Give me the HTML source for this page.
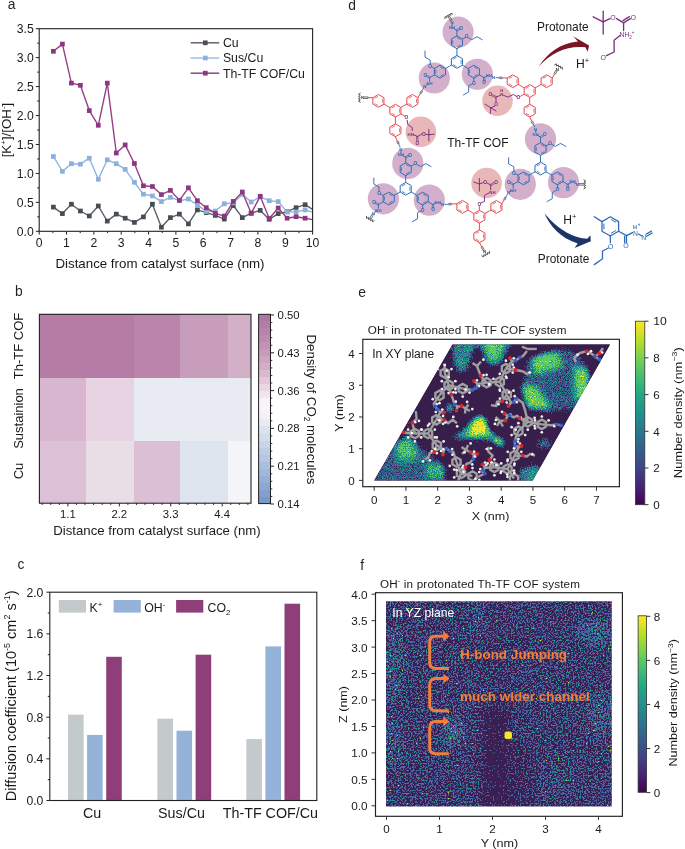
<!DOCTYPE html>
<html><head><meta charset="utf-8"><style>
html,body{margin:0;padding:0;background:#fff;}
svg{display:block;font-family:'Liberation Sans',sans-serif;will-change:transform;}
</style></head><body>
<svg width="685" height="849" viewBox="0 0 685 849">
<text x="7.7" y="9.3" font-size="13.8" text-anchor="start" fill="#2a1d1d" >a</text>
<defs><clipPath id="ca"><rect x="39.2" y="28.7" width="273.4" height="202.6"/></clipPath></defs>
<g clip-path="url(#ca)">
<polyline points="53.4,207.1 62.4,213.6 71.4,204.2 80.4,211.0 89.3,216.0 98.3,206.0 107.3,221.1 116.3,214.1 125.2,218.2 134.4,222.4 143.4,216.9 152.4,204.2 161.4,227.2 170.4,217.6 179.4,214.1 188.4,223.9 197.4,209.9 206.3,212.6 215.3,215.4 224.3,219.1 233.3,205.5 242.3,217.6 251.2,213.2 260.2,210.4 269.2,219.3 278.2,213.6 287.1,211.7 296.1,207.7 305.1,204.7 312.6,209.3" fill="none" stroke="#5a6066" stroke-width="1.4" stroke-linejoin="round" />
<rect x="51.05" y="204.75" width="4.7" height="4.7" fill="#474d55"/>
<rect x="60.05" y="211.25" width="4.7" height="4.7" fill="#474d55"/>
<rect x="69.05" y="201.85" width="4.7" height="4.7" fill="#474d55"/>
<rect x="78.05" y="208.65" width="4.7" height="4.7" fill="#474d55"/>
<rect x="86.95" y="213.65" width="4.7" height="4.7" fill="#474d55"/>
<rect x="95.95" y="203.65" width="4.7" height="4.7" fill="#474d55"/>
<rect x="104.95" y="218.75" width="4.7" height="4.7" fill="#474d55"/>
<rect x="113.95" y="211.75" width="4.7" height="4.7" fill="#474d55"/>
<rect x="122.85" y="215.85" width="4.7" height="4.7" fill="#474d55"/>
<rect x="132.05" y="220.05" width="4.7" height="4.7" fill="#474d55"/>
<rect x="141.05" y="214.55" width="4.7" height="4.7" fill="#474d55"/>
<rect x="150.05" y="201.85" width="4.7" height="4.7" fill="#474d55"/>
<rect x="159.05" y="224.85" width="4.7" height="4.7" fill="#474d55"/>
<rect x="168.05" y="215.25" width="4.7" height="4.7" fill="#474d55"/>
<rect x="177.05" y="211.75" width="4.7" height="4.7" fill="#474d55"/>
<rect x="186.05" y="221.55" width="4.7" height="4.7" fill="#474d55"/>
<rect x="195.05" y="207.55" width="4.7" height="4.7" fill="#474d55"/>
<rect x="203.95" y="210.25" width="4.7" height="4.7" fill="#474d55"/>
<rect x="212.95" y="213.05" width="4.7" height="4.7" fill="#474d55"/>
<rect x="221.95" y="216.75" width="4.7" height="4.7" fill="#474d55"/>
<rect x="230.95" y="203.15" width="4.7" height="4.7" fill="#474d55"/>
<rect x="239.95" y="215.25" width="4.7" height="4.7" fill="#474d55"/>
<rect x="248.85" y="210.85" width="4.7" height="4.7" fill="#474d55"/>
<rect x="257.85" y="208.05" width="4.7" height="4.7" fill="#474d55"/>
<rect x="266.85" y="216.95" width="4.7" height="4.7" fill="#474d55"/>
<rect x="275.85" y="211.25" width="4.7" height="4.7" fill="#474d55"/>
<rect x="284.75" y="209.35" width="4.7" height="4.7" fill="#474d55"/>
<rect x="293.75" y="205.35" width="4.7" height="4.7" fill="#474d55"/>
<rect x="302.75" y="202.35" width="4.7" height="4.7" fill="#474d55"/>
<polyline points="53.4,156.5 62.4,171.4 71.4,163.7 80.4,164.2 89.3,158.2 98.3,179.3 107.3,159.8 116.3,163.7 125.2,169.4 134.4,182.3 143.4,194.2 152.4,195.9 161.4,201.6 170.4,197.4 179.4,200.7 188.4,199.0 197.4,204.9 206.3,211.5 215.3,211.0 224.3,203.8 233.3,202.9 242.3,194.4 251.2,202.0 260.2,196.8 269.2,200.7 278.2,201.6 287.1,211.9 296.1,211.9 305.1,209.9 312.6,212.1" fill="none" stroke="#8fb3de" stroke-width="1.4" stroke-linejoin="round" />
<rect x="51.05" y="154.15" width="4.7" height="4.7" fill="#8cb0dc"/>
<rect x="60.05" y="169.05" width="4.7" height="4.7" fill="#8cb0dc"/>
<rect x="69.05" y="161.35" width="4.7" height="4.7" fill="#8cb0dc"/>
<rect x="78.05" y="161.85" width="4.7" height="4.7" fill="#8cb0dc"/>
<rect x="86.95" y="155.85" width="4.7" height="4.7" fill="#8cb0dc"/>
<rect x="95.95" y="176.95" width="4.7" height="4.7" fill="#8cb0dc"/>
<rect x="104.95" y="157.45" width="4.7" height="4.7" fill="#8cb0dc"/>
<rect x="113.95" y="161.35" width="4.7" height="4.7" fill="#8cb0dc"/>
<rect x="122.85" y="167.05" width="4.7" height="4.7" fill="#8cb0dc"/>
<rect x="132.05" y="179.95" width="4.7" height="4.7" fill="#8cb0dc"/>
<rect x="141.05" y="191.85" width="4.7" height="4.7" fill="#8cb0dc"/>
<rect x="150.05" y="193.55" width="4.7" height="4.7" fill="#8cb0dc"/>
<rect x="159.05" y="199.25" width="4.7" height="4.7" fill="#8cb0dc"/>
<rect x="168.05" y="195.05" width="4.7" height="4.7" fill="#8cb0dc"/>
<rect x="177.05" y="198.35" width="4.7" height="4.7" fill="#8cb0dc"/>
<rect x="186.05" y="196.65" width="4.7" height="4.7" fill="#8cb0dc"/>
<rect x="195.05" y="202.55" width="4.7" height="4.7" fill="#8cb0dc"/>
<rect x="203.95" y="209.15" width="4.7" height="4.7" fill="#8cb0dc"/>
<rect x="212.95" y="208.65" width="4.7" height="4.7" fill="#8cb0dc"/>
<rect x="221.95" y="201.45" width="4.7" height="4.7" fill="#8cb0dc"/>
<rect x="230.95" y="200.55" width="4.7" height="4.7" fill="#8cb0dc"/>
<rect x="239.95" y="192.05" width="4.7" height="4.7" fill="#8cb0dc"/>
<rect x="248.85" y="199.65" width="4.7" height="4.7" fill="#8cb0dc"/>
<rect x="257.85" y="194.45" width="4.7" height="4.7" fill="#8cb0dc"/>
<rect x="266.85" y="198.35" width="4.7" height="4.7" fill="#8cb0dc"/>
<rect x="275.85" y="199.25" width="4.7" height="4.7" fill="#8cb0dc"/>
<rect x="284.75" y="209.55" width="4.7" height="4.7" fill="#8cb0dc"/>
<rect x="293.75" y="209.55" width="4.7" height="4.7" fill="#8cb0dc"/>
<rect x="302.75" y="207.55" width="4.7" height="4.7" fill="#8cb0dc"/>
<polyline points="53.4,51.3 62.4,44.1 71.4,83.1 80.4,85.3 89.3,110.6 98.3,125.3 107.3,83.1 116.3,153.0 125.2,144.9 134.4,163.5 143.4,185.8 152.4,186.5 161.4,194.6 170.4,190.4 179.4,200.3 188.4,187.8 197.4,200.7 206.3,207.7 215.3,213.4 224.3,216.1 233.3,201.4 242.3,192.0 251.2,213.2 260.2,196.3 269.2,218.5 278.2,208.0 287.1,218.2 296.1,216.7 305.1,218.2 312.6,219.6" fill="none" stroke="#963f87" stroke-width="1.4" stroke-linejoin="round" />
<rect x="51.05" y="48.95" width="4.7" height="4.7" fill="#8e367f"/>
<rect x="60.05" y="41.75" width="4.7" height="4.7" fill="#8e367f"/>
<rect x="69.05" y="80.75" width="4.7" height="4.7" fill="#8e367f"/>
<rect x="78.05" y="82.95" width="4.7" height="4.7" fill="#8e367f"/>
<rect x="86.95" y="108.25" width="4.7" height="4.7" fill="#8e367f"/>
<rect x="95.95" y="122.95" width="4.7" height="4.7" fill="#8e367f"/>
<rect x="104.95" y="80.75" width="4.7" height="4.7" fill="#8e367f"/>
<rect x="113.95" y="150.65" width="4.7" height="4.7" fill="#8e367f"/>
<rect x="122.85" y="142.55" width="4.7" height="4.7" fill="#8e367f"/>
<rect x="132.05" y="161.15" width="4.7" height="4.7" fill="#8e367f"/>
<rect x="141.05" y="183.45" width="4.7" height="4.7" fill="#8e367f"/>
<rect x="150.05" y="184.15" width="4.7" height="4.7" fill="#8e367f"/>
<rect x="159.05" y="192.25" width="4.7" height="4.7" fill="#8e367f"/>
<rect x="168.05" y="188.05" width="4.7" height="4.7" fill="#8e367f"/>
<rect x="177.05" y="197.95" width="4.7" height="4.7" fill="#8e367f"/>
<rect x="186.05" y="185.45" width="4.7" height="4.7" fill="#8e367f"/>
<rect x="195.05" y="198.35" width="4.7" height="4.7" fill="#8e367f"/>
<rect x="203.95" y="205.35" width="4.7" height="4.7" fill="#8e367f"/>
<rect x="212.95" y="211.05" width="4.7" height="4.7" fill="#8e367f"/>
<rect x="221.95" y="213.75" width="4.7" height="4.7" fill="#8e367f"/>
<rect x="230.95" y="199.05" width="4.7" height="4.7" fill="#8e367f"/>
<rect x="239.95" y="189.65" width="4.7" height="4.7" fill="#8e367f"/>
<rect x="248.85" y="210.85" width="4.7" height="4.7" fill="#8e367f"/>
<rect x="257.85" y="193.95" width="4.7" height="4.7" fill="#8e367f"/>
<rect x="266.85" y="216.15" width="4.7" height="4.7" fill="#8e367f"/>
<rect x="275.85" y="205.65" width="4.7" height="4.7" fill="#8e367f"/>
<rect x="284.75" y="215.85" width="4.7" height="4.7" fill="#8e367f"/>
<rect x="293.75" y="214.35" width="4.7" height="4.7" fill="#8e367f"/>
<rect x="302.75" y="215.85" width="4.7" height="4.7" fill="#8e367f"/>
</g>
<rect x="39.2" y="28.7" width="273.4" height="202.6" fill="none" stroke="#222" stroke-width="1.1"/>
<line x1="35.80" y1="231.30" x2="39.20" y2="231.30" stroke="#222" stroke-width="1"/>
<text x="33.8" y="235.6" font-size="12.2" text-anchor="end" fill="#1a1a1a" >0.0</text>
<line x1="37.20" y1="216.83" x2="39.20" y2="216.83" stroke="#222" stroke-width="1"/>
<line x1="35.80" y1="202.36" x2="39.20" y2="202.36" stroke="#222" stroke-width="1"/>
<text x="33.8" y="206.7" font-size="12.2" text-anchor="end" fill="#1a1a1a" >0.5</text>
<line x1="37.20" y1="187.89" x2="39.20" y2="187.89" stroke="#222" stroke-width="1"/>
<line x1="35.80" y1="173.41" x2="39.20" y2="173.41" stroke="#222" stroke-width="1"/>
<text x="33.8" y="177.7" font-size="12.2" text-anchor="end" fill="#1a1a1a" >1.0</text>
<line x1="37.20" y1="158.94" x2="39.20" y2="158.94" stroke="#222" stroke-width="1"/>
<line x1="35.80" y1="144.47" x2="39.20" y2="144.47" stroke="#222" stroke-width="1"/>
<text x="33.8" y="148.8" font-size="12.2" text-anchor="end" fill="#1a1a1a" >1.5</text>
<line x1="37.20" y1="130.00" x2="39.20" y2="130.00" stroke="#222" stroke-width="1"/>
<line x1="35.80" y1="115.53" x2="39.20" y2="115.53" stroke="#222" stroke-width="1"/>
<text x="33.8" y="119.8" font-size="12.2" text-anchor="end" fill="#1a1a1a" >2.0</text>
<line x1="37.20" y1="101.06" x2="39.20" y2="101.06" stroke="#222" stroke-width="1"/>
<line x1="35.80" y1="86.59" x2="39.20" y2="86.59" stroke="#222" stroke-width="1"/>
<text x="33.8" y="90.9" font-size="12.2" text-anchor="end" fill="#1a1a1a" >2.5</text>
<line x1="37.20" y1="72.11" x2="39.20" y2="72.11" stroke="#222" stroke-width="1"/>
<line x1="35.80" y1="57.64" x2="39.20" y2="57.64" stroke="#222" stroke-width="1"/>
<text x="33.8" y="61.9" font-size="12.2" text-anchor="end" fill="#1a1a1a" >3.0</text>
<line x1="37.20" y1="43.17" x2="39.20" y2="43.17" stroke="#222" stroke-width="1"/>
<line x1="35.80" y1="28.70" x2="39.20" y2="28.70" stroke="#222" stroke-width="1"/>
<text x="33.8" y="33.0" font-size="12.2" text-anchor="end" fill="#1a1a1a" >3.5</text>
<line x1="39.20" y1="231.30" x2="39.20" y2="234.60" stroke="#222" stroke-width="1"/>
<text x="39.2" y="247.4" font-size="12.2" text-anchor="middle" fill="#1a1a1a" >0</text>
<line x1="52.87" y1="231.30" x2="52.87" y2="233.10" stroke="#222" stroke-width="1"/>
<line x1="66.54" y1="231.30" x2="66.54" y2="234.60" stroke="#222" stroke-width="1"/>
<text x="66.5" y="247.4" font-size="12.2" text-anchor="middle" fill="#1a1a1a" >1</text>
<line x1="80.21" y1="231.30" x2="80.21" y2="233.10" stroke="#222" stroke-width="1"/>
<line x1="93.88" y1="231.30" x2="93.88" y2="234.60" stroke="#222" stroke-width="1"/>
<text x="93.9" y="247.4" font-size="12.2" text-anchor="middle" fill="#1a1a1a" >2</text>
<line x1="107.55" y1="231.30" x2="107.55" y2="233.10" stroke="#222" stroke-width="1"/>
<line x1="121.22" y1="231.30" x2="121.22" y2="234.60" stroke="#222" stroke-width="1"/>
<text x="121.2" y="247.4" font-size="12.2" text-anchor="middle" fill="#1a1a1a" >3</text>
<line x1="134.89" y1="231.30" x2="134.89" y2="233.10" stroke="#222" stroke-width="1"/>
<line x1="148.56" y1="231.30" x2="148.56" y2="234.60" stroke="#222" stroke-width="1"/>
<text x="148.6" y="247.4" font-size="12.2" text-anchor="middle" fill="#1a1a1a" >4</text>
<line x1="162.23" y1="231.30" x2="162.23" y2="233.10" stroke="#222" stroke-width="1"/>
<line x1="175.90" y1="231.30" x2="175.90" y2="234.60" stroke="#222" stroke-width="1"/>
<text x="175.9" y="247.4" font-size="12.2" text-anchor="middle" fill="#1a1a1a" >5</text>
<line x1="189.57" y1="231.30" x2="189.57" y2="233.10" stroke="#222" stroke-width="1"/>
<line x1="203.24" y1="231.30" x2="203.24" y2="234.60" stroke="#222" stroke-width="1"/>
<text x="203.2" y="247.4" font-size="12.2" text-anchor="middle" fill="#1a1a1a" >6</text>
<line x1="216.91" y1="231.30" x2="216.91" y2="233.10" stroke="#222" stroke-width="1"/>
<line x1="230.58" y1="231.30" x2="230.58" y2="234.60" stroke="#222" stroke-width="1"/>
<text x="230.6" y="247.4" font-size="12.2" text-anchor="middle" fill="#1a1a1a" >7</text>
<line x1="244.25" y1="231.30" x2="244.25" y2="233.10" stroke="#222" stroke-width="1"/>
<line x1="257.92" y1="231.30" x2="257.92" y2="234.60" stroke="#222" stroke-width="1"/>
<text x="257.9" y="247.4" font-size="12.2" text-anchor="middle" fill="#1a1a1a" >8</text>
<line x1="271.59" y1="231.30" x2="271.59" y2="233.10" stroke="#222" stroke-width="1"/>
<line x1="285.26" y1="231.30" x2="285.26" y2="234.60" stroke="#222" stroke-width="1"/>
<text x="285.3" y="247.4" font-size="12.2" text-anchor="middle" fill="#1a1a1a" >9</text>
<line x1="298.93" y1="231.30" x2="298.93" y2="233.10" stroke="#222" stroke-width="1"/>
<line x1="312.60" y1="231.30" x2="312.60" y2="234.60" stroke="#222" stroke-width="1"/>
<text x="312.6" y="247.4" font-size="12.2" text-anchor="middle" fill="#1a1a1a" >10</text>
<text x="160.0" y="268.2" font-size="13.3" text-anchor="middle" fill="#1a1a1a" >Distance from catalyst surface (nm)</text>
<text transform="translate(10.9,130) rotate(-90)" font-size="13.3" text-anchor="middle" fill="#1a1a1a">[K<tspan font-size="8" dy="-5">+</tspan><tspan dy="5">]/[OH</tspan><tspan font-size="8" dy="-5">-</tspan><tspan dy="5">]</tspan></text>
<line x1="190.60" y1="42.80" x2="219.20" y2="42.80" stroke="#5f656b" stroke-width="1.5"/>
<rect x="202.95" y="40.45" width="4.7" height="4.7" fill="#4a5058"/>
<text x="222.9" y="47.1" font-size="12.3" text-anchor="start" fill="#1a1a1a" >Cu</text>
<line x1="190.60" y1="58.00" x2="219.20" y2="58.00" stroke="#8fb3de" stroke-width="1.3"/>
<rect x="202.95" y="55.65" width="4.7" height="4.7" fill="#8cb0dc"/>
<text x="222.9" y="62.3" font-size="12.3" text-anchor="start" fill="#1a1a1a" >Sus/Cu</text>
<line x1="190.60" y1="73.20" x2="219.20" y2="73.20" stroke="#953f86" stroke-width="1.5"/>
<rect x="202.95" y="70.85" width="4.7" height="4.7" fill="#8e367f"/>
<text x="222.9" y="77.5" font-size="12.3" text-anchor="start" fill="#1a1a1a" >Th-TF COF/Cu</text>
<text x="15.0" y="296.0" font-size="13.8" text-anchor="start" fill="#2a1d1d" >b</text>
<rect x="39.4" y="314.3" width="46.8" height="63.4" fill="#b57ca5" shape-rendering="crispEdges"/>
<rect x="86.2" y="314.3" width="47.3" height="63.4" fill="#b57ca5" shape-rendering="crispEdges"/>
<rect x="133.5" y="314.3" width="46.9" height="63.4" fill="#bb84ab" shape-rendering="crispEdges"/>
<rect x="180.4" y="314.3" width="47.2" height="63.4" fill="#c89cbb" shape-rendering="crispEdges"/>
<rect x="227.6" y="314.3" width="23.4" height="63.4" fill="#d4b0c8" shape-rendering="crispEdges"/>
<rect x="39.4" y="377.7" width="46.8" height="63.0" fill="#d9b6cf" shape-rendering="crispEdges"/>
<rect x="86.2" y="377.7" width="47.3" height="63.0" fill="#e7d3e2" shape-rendering="crispEdges"/>
<rect x="133.5" y="377.7" width="46.9" height="63.0" fill="#e9ebf3" shape-rendering="crispEdges"/>
<rect x="180.4" y="377.7" width="47.2" height="63.0" fill="#e9ebf3" shape-rendering="crispEdges"/>
<rect x="227.6" y="377.7" width="23.4" height="63.0" fill="#e9ebf3" shape-rendering="crispEdges"/>
<rect x="39.4" y="440.7" width="46.8" height="62.5" fill="#dcc1d6" shape-rendering="crispEdges"/>
<rect x="86.2" y="440.7" width="47.3" height="62.5" fill="#e9dde6" shape-rendering="crispEdges"/>
<rect x="133.5" y="440.7" width="46.9" height="62.5" fill="#dbbfd4" shape-rendering="crispEdges"/>
<rect x="180.4" y="440.7" width="47.2" height="62.5" fill="#dfe5ef" shape-rendering="crispEdges"/>
<rect x="227.6" y="440.7" width="23.4" height="62.5" fill="#f4f5f8" shape-rendering="crispEdges"/>
<rect x="39.4" y="314.3" width="211.6" height="188.9" fill="none" stroke="#222" stroke-width="1.1"/>
<line x1="42.19" y1="503.20" x2="42.19" y2="504.90" stroke="#222" stroke-width="1"/>
<line x1="50.76" y1="503.20" x2="50.76" y2="504.90" stroke="#222" stroke-width="1"/>
<line x1="59.33" y1="503.20" x2="59.33" y2="504.90" stroke="#222" stroke-width="1"/>
<line x1="67.90" y1="503.20" x2="67.90" y2="506.40" stroke="#222" stroke-width="1"/>
<line x1="76.47" y1="503.20" x2="76.47" y2="504.90" stroke="#222" stroke-width="1"/>
<line x1="85.04" y1="503.20" x2="85.04" y2="504.90" stroke="#222" stroke-width="1"/>
<line x1="93.61" y1="503.20" x2="93.61" y2="504.90" stroke="#222" stroke-width="1"/>
<line x1="102.18" y1="503.20" x2="102.18" y2="504.90" stroke="#222" stroke-width="1"/>
<line x1="110.75" y1="503.20" x2="110.75" y2="504.90" stroke="#222" stroke-width="1"/>
<line x1="119.32" y1="503.20" x2="119.32" y2="506.40" stroke="#222" stroke-width="1"/>
<line x1="127.89" y1="503.20" x2="127.89" y2="504.90" stroke="#222" stroke-width="1"/>
<line x1="136.46" y1="503.20" x2="136.46" y2="504.90" stroke="#222" stroke-width="1"/>
<line x1="145.03" y1="503.20" x2="145.03" y2="504.90" stroke="#222" stroke-width="1"/>
<line x1="153.60" y1="503.20" x2="153.60" y2="504.90" stroke="#222" stroke-width="1"/>
<line x1="162.17" y1="503.20" x2="162.17" y2="504.90" stroke="#222" stroke-width="1"/>
<line x1="170.74" y1="503.20" x2="170.74" y2="506.40" stroke="#222" stroke-width="1"/>
<line x1="179.31" y1="503.20" x2="179.31" y2="504.90" stroke="#222" stroke-width="1"/>
<line x1="187.88" y1="503.20" x2="187.88" y2="504.90" stroke="#222" stroke-width="1"/>
<line x1="196.45" y1="503.20" x2="196.45" y2="504.90" stroke="#222" stroke-width="1"/>
<line x1="205.02" y1="503.20" x2="205.02" y2="504.90" stroke="#222" stroke-width="1"/>
<line x1="213.59" y1="503.20" x2="213.59" y2="504.90" stroke="#222" stroke-width="1"/>
<line x1="222.16" y1="503.20" x2="222.16" y2="506.40" stroke="#222" stroke-width="1"/>
<line x1="230.73" y1="503.20" x2="230.73" y2="504.90" stroke="#222" stroke-width="1"/>
<line x1="239.30" y1="503.20" x2="239.30" y2="504.90" stroke="#222" stroke-width="1"/>
<line x1="247.87" y1="503.20" x2="247.87" y2="504.90" stroke="#222" stroke-width="1"/>
<text x="67.9" y="518.3" font-size="11.3" text-anchor="middle" fill="#1a1a1a" >1.1</text>
<text x="119.3" y="518.3" font-size="11.3" text-anchor="middle" fill="#1a1a1a" >2.2</text>
<text x="170.7" y="518.3" font-size="11.3" text-anchor="middle" fill="#1a1a1a" >3.3</text>
<text x="222.2" y="518.3" font-size="11.3" text-anchor="middle" fill="#1a1a1a" >4.4</text>
<text x="157.0" y="535.0" font-size="13.2" text-anchor="middle" fill="#1a1a1a" >Distance from catalyst surface (nm)</text>
<text transform="translate(23.4,346.0) rotate(-90)" font-size="13" text-anchor="middle" fill="#1a1a1a">Th-TF COF</text>
<text transform="translate(23.4,418.5) rotate(-90)" font-size="13" text-anchor="middle" fill="#1a1a1a">Sustainion</text>
<text transform="translate(23.4,471.0) rotate(-90)" font-size="13" text-anchor="middle" fill="#1a1a1a">Cu</text>
<rect x="258.6" y="314.30" width="11.9" height="7.01" fill="#af76a1" shape-rendering="crispEdges"/>
<rect x="258.6" y="321.31" width="11.9" height="7.01" fill="#b47da6" shape-rendering="crispEdges"/>
<rect x="258.6" y="328.32" width="11.9" height="7.01" fill="#b984ab" shape-rendering="crispEdges"/>
<rect x="258.6" y="335.33" width="11.9" height="7.01" fill="#bd8bb0" shape-rendering="crispEdges"/>
<rect x="258.6" y="342.34" width="11.9" height="7.01" fill="#c292b5" shape-rendering="crispEdges"/>
<rect x="258.6" y="349.36" width="11.9" height="7.01" fill="#c79aba" shape-rendering="crispEdges"/>
<rect x="258.6" y="356.37" width="11.9" height="7.01" fill="#cda4c1" shape-rendering="crispEdges"/>
<rect x="258.6" y="363.38" width="11.9" height="7.01" fill="#d3aec8" shape-rendering="crispEdges"/>
<rect x="258.6" y="370.39" width="11.9" height="7.01" fill="#d9b9d0" shape-rendering="crispEdges"/>
<rect x="258.6" y="377.40" width="11.9" height="7.01" fill="#e1c7d9" shape-rendering="crispEdges"/>
<rect x="258.6" y="384.41" width="11.9" height="7.01" fill="#ead5e3" shape-rendering="crispEdges"/>
<rect x="258.6" y="391.42" width="11.9" height="7.01" fill="#f2e4ed" shape-rendering="crispEdges"/>
<rect x="258.6" y="398.43" width="11.9" height="7.01" fill="#f9f3f7" shape-rendering="crispEdges"/>
<rect x="258.6" y="405.44" width="11.9" height="7.01" fill="#f8f5f8" shape-rendering="crispEdges"/>
<rect x="258.6" y="412.46" width="11.9" height="7.01" fill="#f2f2f7" shape-rendering="crispEdges"/>
<rect x="258.6" y="419.47" width="11.9" height="7.01" fill="#e7ebf2" shape-rendering="crispEdges"/>
<rect x="258.6" y="426.48" width="11.9" height="7.01" fill="#dce3ee" shape-rendering="crispEdges"/>
<rect x="258.6" y="433.49" width="11.9" height="7.01" fill="#d2dceb" shape-rendering="crispEdges"/>
<rect x="258.6" y="440.50" width="11.9" height="7.01" fill="#c8d4e7" shape-rendering="crispEdges"/>
<rect x="258.6" y="447.51" width="11.9" height="7.01" fill="#becde4" shape-rendering="crispEdges"/>
<rect x="258.6" y="454.52" width="11.9" height="7.01" fill="#b4c6e1" shape-rendering="crispEdges"/>
<rect x="258.6" y="461.53" width="11.9" height="7.01" fill="#aabfdd" shape-rendering="crispEdges"/>
<rect x="258.6" y="468.54" width="11.9" height="7.01" fill="#a0b7d9" shape-rendering="crispEdges"/>
<rect x="258.6" y="475.56" width="11.9" height="7.01" fill="#96b0d5" shape-rendering="crispEdges"/>
<rect x="258.6" y="482.57" width="11.9" height="7.01" fill="#8ca8d0" shape-rendering="crispEdges"/>
<rect x="258.6" y="489.58" width="11.9" height="7.01" fill="#82a0cc" shape-rendering="crispEdges"/>
<rect x="258.6" y="496.59" width="11.9" height="7.01" fill="#7899c7" shape-rendering="crispEdges"/>
<rect x="258.6" y="314.3" width="11.9" height="189.3" fill="none" stroke="#222" stroke-width="1"/>
<line x1="270.50" y1="315.00" x2="274.00" y2="315.00" stroke="#222" stroke-width="1"/>
<text x="277.6" y="319.0" font-size="11.3" text-anchor="start" fill="#1a1a1a" >0.50</text>
<line x1="270.50" y1="322.56" x2="272.30" y2="322.56" stroke="#222" stroke-width="0.9"/>
<line x1="270.50" y1="330.12" x2="272.30" y2="330.12" stroke="#222" stroke-width="0.9"/>
<line x1="270.50" y1="337.68" x2="272.30" y2="337.68" stroke="#222" stroke-width="0.9"/>
<line x1="270.50" y1="345.24" x2="272.30" y2="345.24" stroke="#222" stroke-width="0.9"/>
<line x1="270.50" y1="352.80" x2="274.00" y2="352.80" stroke="#222" stroke-width="1"/>
<text x="277.6" y="356.8" font-size="11.3" text-anchor="start" fill="#1a1a1a" >0.43</text>
<line x1="270.50" y1="360.36" x2="272.30" y2="360.36" stroke="#222" stroke-width="0.9"/>
<line x1="270.50" y1="367.92" x2="272.30" y2="367.92" stroke="#222" stroke-width="0.9"/>
<line x1="270.50" y1="375.48" x2="272.30" y2="375.48" stroke="#222" stroke-width="0.9"/>
<line x1="270.50" y1="383.04" x2="272.30" y2="383.04" stroke="#222" stroke-width="0.9"/>
<line x1="270.50" y1="390.60" x2="274.00" y2="390.60" stroke="#222" stroke-width="1"/>
<text x="277.6" y="394.6" font-size="11.3" text-anchor="start" fill="#1a1a1a" >0.36</text>
<line x1="270.50" y1="398.16" x2="272.30" y2="398.16" stroke="#222" stroke-width="0.9"/>
<line x1="270.50" y1="405.72" x2="272.30" y2="405.72" stroke="#222" stroke-width="0.9"/>
<line x1="270.50" y1="413.28" x2="272.30" y2="413.28" stroke="#222" stroke-width="0.9"/>
<line x1="270.50" y1="420.84" x2="272.30" y2="420.84" stroke="#222" stroke-width="0.9"/>
<line x1="270.50" y1="428.40" x2="274.00" y2="428.40" stroke="#222" stroke-width="1"/>
<text x="277.6" y="432.4" font-size="11.3" text-anchor="start" fill="#1a1a1a" >0.28</text>
<line x1="270.50" y1="435.96" x2="272.30" y2="435.96" stroke="#222" stroke-width="0.9"/>
<line x1="270.50" y1="443.52" x2="272.30" y2="443.52" stroke="#222" stroke-width="0.9"/>
<line x1="270.50" y1="451.08" x2="272.30" y2="451.08" stroke="#222" stroke-width="0.9"/>
<line x1="270.50" y1="458.64" x2="272.30" y2="458.64" stroke="#222" stroke-width="0.9"/>
<line x1="270.50" y1="466.20" x2="274.00" y2="466.20" stroke="#222" stroke-width="1"/>
<text x="277.6" y="470.2" font-size="11.3" text-anchor="start" fill="#1a1a1a" >0.21</text>
<line x1="270.50" y1="473.76" x2="272.30" y2="473.76" stroke="#222" stroke-width="0.9"/>
<line x1="270.50" y1="481.32" x2="272.30" y2="481.32" stroke="#222" stroke-width="0.9"/>
<line x1="270.50" y1="488.88" x2="272.30" y2="488.88" stroke="#222" stroke-width="0.9"/>
<line x1="270.50" y1="496.44" x2="272.30" y2="496.44" stroke="#222" stroke-width="0.9"/>
<line x1="270.50" y1="504.00" x2="274.00" y2="504.00" stroke="#222" stroke-width="1"/>
<text x="277.6" y="508.0" font-size="11.3" text-anchor="start" fill="#1a1a1a" >0.14</text>
<text transform="translate(307.4,409.5) rotate(90)" font-size="13.2" text-anchor="middle" fill="#1a1a1a">Density of CO<tspan font-size="8.5" dy="3">2</tspan><tspan dy="-3"> molecules</tspan></text>
<text x="17.5" y="569.0" font-size="13.8" text-anchor="start" fill="#2a1d1d" >c</text>
<rect x="68.0" y="714.6" width="15.6" height="85.9" fill="#c4c9cb"/>
<rect x="87.1" y="734.9" width="15.6" height="65.6" fill="#95b2d8"/>
<rect x="106.2" y="656.8" width="15.6" height="143.7" fill="#8e3f7a"/>
<rect x="157.4" y="718.7" width="15.6" height="81.8" fill="#c4c9cb"/>
<rect x="176.5" y="730.7" width="15.6" height="69.8" fill="#95b2d8"/>
<rect x="195.6" y="654.7" width="15.6" height="145.8" fill="#8e3f7a"/>
<rect x="246.3" y="739.1" width="15.6" height="61.4" fill="#c4c9cb"/>
<rect x="265.4" y="646.4" width="15.6" height="154.1" fill="#95b2d8"/>
<rect x="284.5" y="603.7" width="15.6" height="196.8" fill="#8e3f7a"/>
<rect x="49.8" y="592.2" width="267.0" height="208.3" fill="none" stroke="#222" stroke-width="1.1"/>
<line x1="46.40" y1="800.50" x2="49.80" y2="800.50" stroke="#222" stroke-width="1"/>
<text x="43.4" y="804.8" font-size="12.2" text-anchor="end" fill="#1a1a1a" >0.0</text>
<line x1="47.80" y1="779.67" x2="49.80" y2="779.67" stroke="#222" stroke-width="1"/>
<line x1="46.40" y1="758.84" x2="49.80" y2="758.84" stroke="#222" stroke-width="1"/>
<text x="43.4" y="763.1" font-size="12.2" text-anchor="end" fill="#1a1a1a" >0.4</text>
<line x1="47.80" y1="738.01" x2="49.80" y2="738.01" stroke="#222" stroke-width="1"/>
<line x1="46.40" y1="717.18" x2="49.80" y2="717.18" stroke="#222" stroke-width="1"/>
<text x="43.4" y="721.5" font-size="12.2" text-anchor="end" fill="#1a1a1a" >0.8</text>
<line x1="47.80" y1="696.35" x2="49.80" y2="696.35" stroke="#222" stroke-width="1"/>
<line x1="46.40" y1="675.52" x2="49.80" y2="675.52" stroke="#222" stroke-width="1"/>
<text x="43.4" y="679.8" font-size="12.2" text-anchor="end" fill="#1a1a1a" >1.2</text>
<line x1="47.80" y1="654.69" x2="49.80" y2="654.69" stroke="#222" stroke-width="1"/>
<line x1="46.40" y1="633.86" x2="49.80" y2="633.86" stroke="#222" stroke-width="1"/>
<text x="43.4" y="638.2" font-size="12.2" text-anchor="end" fill="#1a1a1a" >1.6</text>
<line x1="47.80" y1="613.03" x2="49.80" y2="613.03" stroke="#222" stroke-width="1"/>
<line x1="46.40" y1="592.20" x2="49.80" y2="592.20" stroke="#222" stroke-width="1"/>
<text x="43.4" y="596.5" font-size="12.2" text-anchor="end" fill="#1a1a1a" >2.0</text>
<text x="92.1" y="818.4" font-size="14.3" text-anchor="middle" fill="#1a1a1a" >Cu</text>
<text x="181.5" y="818.4" font-size="14.3" text-anchor="middle" fill="#1a1a1a" >Sus/Cu</text>
<text x="270.4" y="818.4" font-size="14.3" text-anchor="middle" fill="#1a1a1a" >Th-TF COF/Cu</text>
<rect x="58.8" y="600.0" width="27.2" height="12.6" fill="#c4c9cb"/>
<rect x="113.6" y="600.0" width="27.2" height="12.6" fill="#95b2d8"/>
<rect x="176.1" y="600.0" width="27.2" height="12.6" fill="#8e3f7a"/>
<text x="89.6" y="612.3" font-size="12.3" text-anchor="start" fill="#1a1a1a" >K<tspan font-size="7.8" dy="-5">+</tspan></text>
<text x="144.3" y="612.3" font-size="12.3" text-anchor="start" fill="#1a1a1a" >OH<tspan font-size="7.8" dy="-5">-</tspan></text>
<text x="207.5" y="612.3" font-size="12.3" text-anchor="start" fill="#1a1a1a" >CO<tspan font-size="7.8" dy="3">2</tspan></text>
<text transform="translate(15.9,695.8) rotate(-90)" font-size="14.5" text-anchor="middle" fill="#1a1a1a">Diffusion coefficient (10<tspan font-size="9" dy="-5.5">-5</tspan><tspan dy="5.5"> cm</tspan><tspan font-size="9" dy="-5.5">2</tspan><tspan dy="5.5"> s</tspan><tspan font-size="9" dy="-5.5">-1</tspan><tspan dy="5.5">)</tspan></text>
<text x="348.2" y="10.3" font-size="13.8" text-anchor="start" fill="#2a1d1d" >d</text>
<circle cx="458.1" cy="32.0" r="15.6" fill="#d3afcb"/>
<circle cx="434.3" cy="78.0" r="15.6" fill="#d3afcb"/>
<circle cx="477.4" cy="74.3" r="15.6" fill="#d3afcb"/>
<circle cx="540.5" cy="138.9" r="15.6" fill="#d3afcb"/>
<circle cx="520.3" cy="184.3" r="15.6" fill="#d3afcb"/>
<circle cx="563.5" cy="182.6" r="15.6" fill="#d3afcb"/>
<circle cx="407.8" cy="163.4" r="15.6" fill="#d3afcb"/>
<circle cx="383.4" cy="198.8" r="15.6" fill="#d3afcb"/>
<circle cx="429.3" cy="200.1" r="15.6" fill="#d3afcb"/>
<circle cx="420.9" cy="131.8" r="15.3" fill="#e8b7b8"/>
<circle cx="497.5" cy="100.7" r="15.3" fill="#e8b7b8"/>
<circle cx="486.6" cy="183.0" r="15.3" fill="#e8b7b8"/>
<polygon points="456.90,68.30 451.36,65.10 451.36,58.70 456.90,55.50 462.44,58.70 462.44,65.10" fill="none" stroke="#2f6cb5" stroke-width="1.0" stroke-linejoin="round"/>
<line x1="456.20" y1="66.32" x2="453.42" y2="64.72" stroke="#2f6cb5" stroke-width="0.75" stroke-linecap="round"/>
<line x1="453.42" y1="59.08" x2="456.20" y2="57.48" stroke="#2f6cb5" stroke-width="0.75" stroke-linecap="round"/>
<line x1="461.08" y1="60.29" x2="461.08" y2="63.51" stroke="#2f6cb5" stroke-width="0.75" stroke-linecap="round"/>
<line x1="456.90" y1="55.50" x2="456.90" y2="48.70" stroke="#2f6cb5" stroke-width="0.95" stroke-linecap="round"/>
<polygon points="456.90,35.90 462.44,39.10 462.44,45.50 456.90,48.70 451.36,45.50 451.36,39.10" fill="none" stroke="#2f6cb5" stroke-width="1.0" stroke-linejoin="round"/>
<line x1="457.60" y1="37.88" x2="460.38" y2="39.48" stroke="#2f6cb5" stroke-width="0.75" stroke-linecap="round"/>
<line x1="460.38" y1="45.12" x2="457.60" y2="46.72" stroke="#2f6cb5" stroke-width="0.75" stroke-linecap="round"/>
<line x1="452.72" y1="43.91" x2="452.72" y2="40.69" stroke="#2f6cb5" stroke-width="0.75" stroke-linecap="round"/>
<line x1="456.90" y1="35.90" x2="456.90" y2="30.40" stroke="#2f6cb5" stroke-width="0.95" stroke-linecap="round"/>
<line x1="457.25" y1="31.01" x2="460.37" y2="29.21" stroke="#2f6cb5" stroke-width="0.7" stroke-linecap="round"/>
<line x1="456.55" y1="29.79" x2="459.67" y2="27.99" stroke="#2f6cb5" stroke-width="0.7" stroke-linecap="round"/>
<text x="461.2" y="29.6" font-size="4.8" text-anchor="middle" fill="#2f6cb5" font-weight="bold">O</text>
<line x1="456.90" y1="30.40" x2="453.61" y2="28.50" stroke="#2f6cb5" stroke-width="0.95" stroke-linecap="round"/>
<text x="452.1" y="29.3" font-size="4.3" text-anchor="middle" fill="#2f6cb5" font-weight="bold">NH</text>
<line x1="452.14" y1="25.75" x2="452.14" y2="23.75" stroke="#2f6cb5" stroke-width="0.95" stroke-linecap="round"/>
<text x="452.1" y="23.8" font-size="4.4" text-anchor="middle" fill="#2f6cb5" font-weight="bold">N</text>
<line x1="462.44" y1="39.10" x2="465.30" y2="37.45" stroke="#2f6cb5" stroke-width="0.95" stroke-linecap="round"/>
<text x="466.6" y="38.4" font-size="4.8" text-anchor="middle" fill="#2f6cb5" font-weight="bold">O</text>
<polyline points="468.07,37.55 471.80,39.70 476.99,36.70 482.19,39.70" fill="none" stroke="#2f6cb5" stroke-width="0.95" stroke-linejoin="round" stroke-linecap="round"/>
<line x1="451.36" y1="65.10" x2="445.47" y2="68.50" stroke="#2f6cb5" stroke-width="0.95" stroke-linecap="round"/>
<polygon points="434.38,74.90 434.38,68.50 439.93,65.30 445.47,68.50 445.47,74.90 439.93,78.10" fill="none" stroke="#2f6cb5" stroke-width="1.0" stroke-linejoin="round"/>
<line x1="435.74" y1="73.31" x2="435.74" y2="70.09" stroke="#2f6cb5" stroke-width="0.75" stroke-linecap="round"/>
<line x1="440.63" y1="67.28" x2="443.41" y2="68.88" stroke="#2f6cb5" stroke-width="0.75" stroke-linecap="round"/>
<line x1="443.41" y1="74.52" x2="440.63" y2="76.12" stroke="#2f6cb5" stroke-width="0.75" stroke-linecap="round"/>
<line x1="434.38" y1="74.90" x2="429.62" y2="77.65" stroke="#2f6cb5" stroke-width="0.95" stroke-linecap="round"/>
<line x1="429.97" y1="77.04" x2="426.85" y2="75.24" stroke="#2f6cb5" stroke-width="0.7" stroke-linecap="round"/>
<line x1="429.27" y1="78.26" x2="426.15" y2="76.46" stroke="#2f6cb5" stroke-width="0.7" stroke-linecap="round"/>
<text x="425.3" y="76.9" font-size="4.8" text-anchor="middle" fill="#2f6cb5" font-weight="bold">O</text>
<line x1="429.62" y1="77.65" x2="429.62" y2="81.45" stroke="#2f6cb5" stroke-width="0.95" stroke-linecap="round"/>
<text x="429.6" y="84.9" font-size="4.3" text-anchor="middle" fill="#2f6cb5" font-weight="bold">NH</text>
<line x1="427.97" y1="84.10" x2="426.24" y2="85.10" stroke="#2f6cb5" stroke-width="0.95" stroke-linecap="round"/>
<text x="424.9" y="87.6" font-size="4.4" text-anchor="middle" fill="#2f6cb5" font-weight="bold">N</text>
<line x1="434.38" y1="68.50" x2="431.53" y2="66.85" stroke="#2f6cb5" stroke-width="0.95" stroke-linecap="round"/>
<text x="430.2" y="67.8" font-size="4.8" text-anchor="middle" fill="#2f6cb5" font-weight="bold">O</text>
<polyline points="430.23,64.40 430.23,60.10 425.03,57.10 425.03,51.10" fill="none" stroke="#2f6cb5" stroke-width="0.95" stroke-linejoin="round" stroke-linecap="round"/>
<line x1="462.44" y1="65.10" x2="468.33" y2="68.50" stroke="#2f6cb5" stroke-width="0.95" stroke-linecap="round"/>
<polygon points="479.42,74.90 473.87,78.10 468.33,74.90 468.33,68.50 473.87,65.30 479.42,68.50" fill="none" stroke="#2f6cb5" stroke-width="1.0" stroke-linejoin="round"/>
<line x1="477.36" y1="74.52" x2="474.57" y2="76.12" stroke="#2f6cb5" stroke-width="0.75" stroke-linecap="round"/>
<line x1="469.69" y1="73.31" x2="469.69" y2="70.09" stroke="#2f6cb5" stroke-width="0.75" stroke-linecap="round"/>
<line x1="474.57" y1="67.28" x2="477.36" y2="68.88" stroke="#2f6cb5" stroke-width="0.75" stroke-linecap="round"/>
<line x1="479.42" y1="74.90" x2="484.18" y2="77.65" stroke="#2f6cb5" stroke-width="0.95" stroke-linecap="round"/>
<line x1="483.48" y1="77.65" x2="483.48" y2="81.25" stroke="#2f6cb5" stroke-width="0.7" stroke-linecap="round"/>
<line x1="484.88" y1="77.65" x2="484.88" y2="81.25" stroke="#2f6cb5" stroke-width="0.7" stroke-linecap="round"/>
<text x="484.2" y="84.4" font-size="4.8" text-anchor="middle" fill="#2f6cb5" font-weight="bold">O</text>
<line x1="484.18" y1="77.65" x2="487.47" y2="75.75" stroke="#2f6cb5" stroke-width="0.95" stroke-linecap="round"/>
<text x="488.9" y="76.6" font-size="4.3" text-anchor="middle" fill="#2f6cb5" font-weight="bold">NH</text>
<line x1="490.59" y1="75.85" x2="492.32" y2="76.85" stroke="#2f6cb5" stroke-width="0.95" stroke-linecap="round"/>
<text x="493.7" y="79.4" font-size="4.4" text-anchor="middle" fill="#2f6cb5" font-weight="bold">N</text>
<line x1="473.87" y1="78.10" x2="473.87" y2="81.40" stroke="#2f6cb5" stroke-width="0.95" stroke-linecap="round"/>
<text x="473.9" y="84.6" font-size="4.8" text-anchor="middle" fill="#2f6cb5" font-weight="bold">O</text>
<polyline points="472.40,83.75 468.68,85.90 468.68,91.90 463.48,94.90" fill="none" stroke="#2f6cb5" stroke-width="0.95" stroke-linejoin="round" stroke-linecap="round"/>
<polygon points="540.50,175.00 534.96,171.80 534.96,165.40 540.50,162.20 546.04,165.40 546.04,171.80" fill="none" stroke="#2f6cb5" stroke-width="1.0" stroke-linejoin="round"/>
<line x1="539.80" y1="173.02" x2="537.02" y2="171.42" stroke="#2f6cb5" stroke-width="0.75" stroke-linecap="round"/>
<line x1="537.02" y1="165.78" x2="539.80" y2="164.18" stroke="#2f6cb5" stroke-width="0.75" stroke-linecap="round"/>
<line x1="544.68" y1="166.99" x2="544.68" y2="170.21" stroke="#2f6cb5" stroke-width="0.75" stroke-linecap="round"/>
<line x1="540.50" y1="162.20" x2="540.50" y2="155.40" stroke="#2f6cb5" stroke-width="0.95" stroke-linecap="round"/>
<polygon points="540.50,142.60 546.04,145.80 546.04,152.20 540.50,155.40 534.96,152.20 534.96,145.80" fill="none" stroke="#2f6cb5" stroke-width="1.0" stroke-linejoin="round"/>
<line x1="541.20" y1="144.58" x2="543.98" y2="146.18" stroke="#2f6cb5" stroke-width="0.75" stroke-linecap="round"/>
<line x1="543.98" y1="151.82" x2="541.20" y2="153.42" stroke="#2f6cb5" stroke-width="0.75" stroke-linecap="round"/>
<line x1="536.32" y1="150.61" x2="536.32" y2="147.39" stroke="#2f6cb5" stroke-width="0.75" stroke-linecap="round"/>
<line x1="540.50" y1="142.60" x2="540.50" y2="137.10" stroke="#2f6cb5" stroke-width="0.95" stroke-linecap="round"/>
<line x1="540.85" y1="137.71" x2="543.97" y2="135.91" stroke="#2f6cb5" stroke-width="0.7" stroke-linecap="round"/>
<line x1="540.15" y1="136.49" x2="543.27" y2="134.69" stroke="#2f6cb5" stroke-width="0.7" stroke-linecap="round"/>
<text x="544.8" y="136.3" font-size="4.8" text-anchor="middle" fill="#2f6cb5" font-weight="bold">O</text>
<line x1="540.50" y1="137.10" x2="537.21" y2="135.20" stroke="#2f6cb5" stroke-width="0.95" stroke-linecap="round"/>
<text x="535.7" y="136.0" font-size="4.3" text-anchor="middle" fill="#2f6cb5" font-weight="bold">NH</text>
<line x1="535.74" y1="132.45" x2="535.74" y2="130.45" stroke="#2f6cb5" stroke-width="0.95" stroke-linecap="round"/>
<text x="535.7" y="130.5" font-size="4.4" text-anchor="middle" fill="#2f6cb5" font-weight="bold">N</text>
<line x1="546.04" y1="145.80" x2="548.90" y2="144.15" stroke="#2f6cb5" stroke-width="0.95" stroke-linecap="round"/>
<text x="550.2" y="145.1" font-size="4.8" text-anchor="middle" fill="#2f6cb5" font-weight="bold">O</text>
<polyline points="551.67,144.25 555.40,146.40 560.59,143.40 565.79,146.40" fill="none" stroke="#2f6cb5" stroke-width="0.95" stroke-linejoin="round" stroke-linecap="round"/>
<line x1="534.96" y1="171.80" x2="529.07" y2="175.20" stroke="#2f6cb5" stroke-width="0.95" stroke-linecap="round"/>
<polygon points="517.98,181.60 517.98,175.20 523.53,172.00 529.07,175.20 529.07,181.60 523.53,184.80" fill="none" stroke="#2f6cb5" stroke-width="1.0" stroke-linejoin="round"/>
<line x1="519.34" y1="180.01" x2="519.34" y2="176.79" stroke="#2f6cb5" stroke-width="0.75" stroke-linecap="round"/>
<line x1="524.23" y1="173.98" x2="527.01" y2="175.58" stroke="#2f6cb5" stroke-width="0.75" stroke-linecap="round"/>
<line x1="527.01" y1="181.22" x2="524.23" y2="182.82" stroke="#2f6cb5" stroke-width="0.75" stroke-linecap="round"/>
<line x1="517.98" y1="181.60" x2="513.22" y2="184.35" stroke="#2f6cb5" stroke-width="0.95" stroke-linecap="round"/>
<line x1="513.57" y1="183.74" x2="510.45" y2="181.94" stroke="#2f6cb5" stroke-width="0.7" stroke-linecap="round"/>
<line x1="512.87" y1="184.96" x2="509.75" y2="183.16" stroke="#2f6cb5" stroke-width="0.7" stroke-linecap="round"/>
<text x="508.9" y="183.5" font-size="4.8" text-anchor="middle" fill="#2f6cb5" font-weight="bold">O</text>
<line x1="513.22" y1="184.35" x2="513.22" y2="188.15" stroke="#2f6cb5" stroke-width="0.95" stroke-linecap="round"/>
<text x="513.2" y="191.5" font-size="4.3" text-anchor="middle" fill="#2f6cb5" font-weight="bold">NH</text>
<line x1="511.57" y1="190.80" x2="509.84" y2="191.80" stroke="#2f6cb5" stroke-width="0.95" stroke-linecap="round"/>
<text x="508.5" y="194.3" font-size="4.4" text-anchor="middle" fill="#2f6cb5" font-weight="bold">N</text>
<line x1="517.98" y1="175.20" x2="515.13" y2="173.55" stroke="#2f6cb5" stroke-width="0.95" stroke-linecap="round"/>
<text x="513.8" y="174.5" font-size="4.8" text-anchor="middle" fill="#2f6cb5" font-weight="bold">O</text>
<polyline points="513.83,171.10 513.83,166.80 508.63,163.80 508.63,157.80" fill="none" stroke="#2f6cb5" stroke-width="0.95" stroke-linejoin="round" stroke-linecap="round"/>
<line x1="546.04" y1="171.80" x2="551.93" y2="175.20" stroke="#2f6cb5" stroke-width="0.95" stroke-linecap="round"/>
<polygon points="563.02,181.60 557.47,184.80 551.93,181.60 551.93,175.20 557.47,172.00 563.02,175.20" fill="none" stroke="#2f6cb5" stroke-width="1.0" stroke-linejoin="round"/>
<line x1="560.96" y1="181.22" x2="558.17" y2="182.82" stroke="#2f6cb5" stroke-width="0.75" stroke-linecap="round"/>
<line x1="553.29" y1="180.01" x2="553.29" y2="176.79" stroke="#2f6cb5" stroke-width="0.75" stroke-linecap="round"/>
<line x1="558.17" y1="173.98" x2="560.96" y2="175.58" stroke="#2f6cb5" stroke-width="0.75" stroke-linecap="round"/>
<line x1="563.02" y1="181.60" x2="567.78" y2="184.35" stroke="#2f6cb5" stroke-width="0.95" stroke-linecap="round"/>
<line x1="567.08" y1="184.35" x2="567.08" y2="187.95" stroke="#2f6cb5" stroke-width="0.7" stroke-linecap="round"/>
<line x1="568.48" y1="184.35" x2="568.48" y2="187.95" stroke="#2f6cb5" stroke-width="0.7" stroke-linecap="round"/>
<text x="567.8" y="191.0" font-size="4.8" text-anchor="middle" fill="#2f6cb5" font-weight="bold">O</text>
<line x1="567.78" y1="184.35" x2="571.07" y2="182.45" stroke="#2f6cb5" stroke-width="0.95" stroke-linecap="round"/>
<text x="572.5" y="183.3" font-size="4.3" text-anchor="middle" fill="#2f6cb5" font-weight="bold">NH</text>
<line x1="574.19" y1="182.55" x2="575.92" y2="183.55" stroke="#2f6cb5" stroke-width="0.95" stroke-linecap="round"/>
<text x="577.3" y="186.0" font-size="4.4" text-anchor="middle" fill="#2f6cb5" font-weight="bold">N</text>
<line x1="557.47" y1="184.80" x2="557.47" y2="188.10" stroke="#2f6cb5" stroke-width="0.95" stroke-linecap="round"/>
<text x="557.5" y="191.3" font-size="4.8" text-anchor="middle" fill="#2f6cb5" font-weight="bold">O</text>
<polyline points="556.00,190.45 552.28,192.60 552.28,198.60 547.08,201.60" fill="none" stroke="#2f6cb5" stroke-width="0.95" stroke-linejoin="round" stroke-linecap="round"/>
<polygon points="405.70,195.20 400.16,192.00 400.16,185.60 405.70,182.40 411.24,185.60 411.24,192.00" fill="none" stroke="#2f6cb5" stroke-width="1.0" stroke-linejoin="round"/>
<line x1="405.00" y1="193.22" x2="402.22" y2="191.62" stroke="#2f6cb5" stroke-width="0.75" stroke-linecap="round"/>
<line x1="402.22" y1="185.98" x2="405.00" y2="184.38" stroke="#2f6cb5" stroke-width="0.75" stroke-linecap="round"/>
<line x1="409.88" y1="187.19" x2="409.88" y2="190.41" stroke="#2f6cb5" stroke-width="0.75" stroke-linecap="round"/>
<line x1="405.70" y1="182.40" x2="405.70" y2="175.60" stroke="#2f6cb5" stroke-width="0.95" stroke-linecap="round"/>
<polygon points="405.70,162.80 411.24,166.00 411.24,172.40 405.70,175.60 400.16,172.40 400.16,166.00" fill="none" stroke="#2f6cb5" stroke-width="1.0" stroke-linejoin="round"/>
<line x1="406.40" y1="164.78" x2="409.18" y2="166.38" stroke="#2f6cb5" stroke-width="0.75" stroke-linecap="round"/>
<line x1="409.18" y1="172.02" x2="406.40" y2="173.62" stroke="#2f6cb5" stroke-width="0.75" stroke-linecap="round"/>
<line x1="401.52" y1="170.81" x2="401.52" y2="167.59" stroke="#2f6cb5" stroke-width="0.75" stroke-linecap="round"/>
<line x1="405.70" y1="162.80" x2="405.70" y2="157.30" stroke="#2f6cb5" stroke-width="0.95" stroke-linecap="round"/>
<line x1="406.05" y1="157.91" x2="409.17" y2="156.11" stroke="#2f6cb5" stroke-width="0.7" stroke-linecap="round"/>
<line x1="405.35" y1="156.69" x2="408.47" y2="154.89" stroke="#2f6cb5" stroke-width="0.7" stroke-linecap="round"/>
<text x="410.0" y="156.5" font-size="4.8" text-anchor="middle" fill="#2f6cb5" font-weight="bold">O</text>
<line x1="405.70" y1="157.30" x2="402.41" y2="155.40" stroke="#2f6cb5" stroke-width="0.95" stroke-linecap="round"/>
<text x="400.9" y="156.2" font-size="4.3" text-anchor="middle" fill="#2f6cb5" font-weight="bold">NH</text>
<line x1="400.94" y1="152.65" x2="400.94" y2="150.65" stroke="#2f6cb5" stroke-width="0.95" stroke-linecap="round"/>
<text x="400.9" y="150.8" font-size="4.4" text-anchor="middle" fill="#2f6cb5" font-weight="bold">N</text>
<line x1="411.24" y1="166.00" x2="414.10" y2="164.35" stroke="#2f6cb5" stroke-width="0.95" stroke-linecap="round"/>
<text x="415.4" y="165.3" font-size="4.8" text-anchor="middle" fill="#2f6cb5" font-weight="bold">O</text>
<polyline points="416.87,164.45 420.60,166.60 425.79,163.60 430.99,166.60" fill="none" stroke="#2f6cb5" stroke-width="0.95" stroke-linejoin="round" stroke-linecap="round"/>
<line x1="400.16" y1="192.00" x2="394.27" y2="195.40" stroke="#2f6cb5" stroke-width="0.95" stroke-linecap="round"/>
<polygon points="383.18,201.80 383.18,195.40 388.73,192.20 394.27,195.40 394.27,201.80 388.73,205.00" fill="none" stroke="#2f6cb5" stroke-width="1.0" stroke-linejoin="round"/>
<line x1="384.54" y1="200.21" x2="384.54" y2="196.99" stroke="#2f6cb5" stroke-width="0.75" stroke-linecap="round"/>
<line x1="389.43" y1="194.18" x2="392.21" y2="195.78" stroke="#2f6cb5" stroke-width="0.75" stroke-linecap="round"/>
<line x1="392.21" y1="201.42" x2="389.43" y2="203.02" stroke="#2f6cb5" stroke-width="0.75" stroke-linecap="round"/>
<line x1="383.18" y1="201.80" x2="378.42" y2="204.55" stroke="#2f6cb5" stroke-width="0.95" stroke-linecap="round"/>
<line x1="378.77" y1="203.94" x2="375.65" y2="202.14" stroke="#2f6cb5" stroke-width="0.7" stroke-linecap="round"/>
<line x1="378.07" y1="205.16" x2="374.95" y2="203.36" stroke="#2f6cb5" stroke-width="0.7" stroke-linecap="round"/>
<text x="374.1" y="203.8" font-size="4.8" text-anchor="middle" fill="#2f6cb5" font-weight="bold">O</text>
<line x1="378.42" y1="204.55" x2="378.42" y2="208.35" stroke="#2f6cb5" stroke-width="0.95" stroke-linecap="round"/>
<text x="378.4" y="211.8" font-size="4.3" text-anchor="middle" fill="#2f6cb5" font-weight="bold">NH</text>
<line x1="376.77" y1="211.00" x2="375.04" y2="212.00" stroke="#2f6cb5" stroke-width="0.95" stroke-linecap="round"/>
<text x="373.7" y="214.5" font-size="4.4" text-anchor="middle" fill="#2f6cb5" font-weight="bold">N</text>
<line x1="383.18" y1="195.40" x2="380.33" y2="193.75" stroke="#2f6cb5" stroke-width="0.95" stroke-linecap="round"/>
<text x="379.0" y="194.7" font-size="4.8" text-anchor="middle" fill="#2f6cb5" font-weight="bold">O</text>
<polyline points="379.03,191.30 379.03,187.00 373.83,184.00 373.83,178.00" fill="none" stroke="#2f6cb5" stroke-width="0.95" stroke-linejoin="round" stroke-linecap="round"/>
<line x1="411.24" y1="192.00" x2="417.13" y2="195.40" stroke="#2f6cb5" stroke-width="0.95" stroke-linecap="round"/>
<polygon points="428.22,201.80 422.67,205.00 417.13,201.80 417.13,195.40 422.67,192.20 428.22,195.40" fill="none" stroke="#2f6cb5" stroke-width="1.0" stroke-linejoin="round"/>
<line x1="426.16" y1="201.42" x2="423.37" y2="203.02" stroke="#2f6cb5" stroke-width="0.75" stroke-linecap="round"/>
<line x1="418.49" y1="200.21" x2="418.49" y2="196.99" stroke="#2f6cb5" stroke-width="0.75" stroke-linecap="round"/>
<line x1="423.37" y1="194.18" x2="426.16" y2="195.78" stroke="#2f6cb5" stroke-width="0.75" stroke-linecap="round"/>
<line x1="428.22" y1="201.80" x2="432.98" y2="204.55" stroke="#2f6cb5" stroke-width="0.95" stroke-linecap="round"/>
<line x1="432.28" y1="204.55" x2="432.28" y2="208.15" stroke="#2f6cb5" stroke-width="0.7" stroke-linecap="round"/>
<line x1="433.68" y1="204.55" x2="433.68" y2="208.15" stroke="#2f6cb5" stroke-width="0.7" stroke-linecap="round"/>
<text x="433.0" y="211.2" font-size="4.8" text-anchor="middle" fill="#2f6cb5" font-weight="bold">O</text>
<line x1="432.98" y1="204.55" x2="436.27" y2="202.65" stroke="#2f6cb5" stroke-width="0.95" stroke-linecap="round"/>
<text x="437.7" y="203.5" font-size="4.3" text-anchor="middle" fill="#2f6cb5" font-weight="bold">NH</text>
<line x1="439.39" y1="202.75" x2="441.12" y2="203.75" stroke="#2f6cb5" stroke-width="0.95" stroke-linecap="round"/>
<text x="442.5" y="206.2" font-size="4.4" text-anchor="middle" fill="#2f6cb5" font-weight="bold">N</text>
<line x1="422.67" y1="205.00" x2="422.67" y2="208.30" stroke="#2f6cb5" stroke-width="0.95" stroke-linecap="round"/>
<text x="422.7" y="211.5" font-size="4.8" text-anchor="middle" fill="#2f6cb5" font-weight="bold">O</text>
<polyline points="421.20,210.65 417.48,212.80 417.48,218.80 412.28,221.80" fill="none" stroke="#2f6cb5" stroke-width="0.95" stroke-linejoin="round" stroke-linecap="round"/>
<polygon points="395.40,117.10 389.86,113.90 389.86,107.50 395.40,104.30 400.94,107.50 400.94,113.90" fill="none" stroke="#e5484f" stroke-width="1.0" stroke-linejoin="round"/>
<line x1="394.70" y1="115.12" x2="391.92" y2="113.52" stroke="#e5484f" stroke-width="0.75" stroke-linecap="round"/>
<line x1="391.92" y1="107.88" x2="394.70" y2="106.28" stroke="#e5484f" stroke-width="0.75" stroke-linecap="round"/>
<line x1="399.58" y1="109.09" x2="399.58" y2="112.31" stroke="#e5484f" stroke-width="0.75" stroke-linecap="round"/>
<line x1="389.86" y1="107.50" x2="383.97" y2="104.10" stroke="#e5484f" stroke-width="0.95" stroke-linecap="round"/>
<polygon points="372.88,97.70 378.43,94.50 383.97,97.70 383.97,104.10 378.43,107.30 372.88,104.10" fill="none" stroke="#e5484f" stroke-width="1.0" stroke-linejoin="round"/>
<line x1="374.94" y1="98.08" x2="377.73" y2="96.48" stroke="#e5484f" stroke-width="0.75" stroke-linecap="round"/>
<line x1="382.61" y1="99.29" x2="382.61" y2="102.51" stroke="#e5484f" stroke-width="0.75" stroke-linecap="round"/>
<line x1="377.73" y1="105.32" x2="374.94" y2="103.72" stroke="#e5484f" stroke-width="0.75" stroke-linecap="round"/>
<line x1="400.94" y1="107.50" x2="406.83" y2="104.10" stroke="#e5484f" stroke-width="0.95" stroke-linecap="round"/>
<polygon points="417.92,97.70 417.92,104.10 412.37,107.30 406.83,104.10 406.83,97.70 412.37,94.50" fill="none" stroke="#e5484f" stroke-width="1.0" stroke-linejoin="round"/>
<line x1="416.56" y1="99.29" x2="416.56" y2="102.51" stroke="#e5484f" stroke-width="0.75" stroke-linecap="round"/>
<line x1="411.67" y1="105.32" x2="408.89" y2="103.72" stroke="#e5484f" stroke-width="0.75" stroke-linecap="round"/>
<line x1="408.89" y1="98.08" x2="411.67" y2="96.48" stroke="#e5484f" stroke-width="0.75" stroke-linecap="round"/>
<line x1="395.40" y1="117.10" x2="395.40" y2="123.90" stroke="#e5484f" stroke-width="0.95" stroke-linecap="round"/>
<polygon points="395.40,136.70 389.86,133.50 389.86,127.10 395.40,123.90 400.94,127.10 400.94,133.50" fill="none" stroke="#e5484f" stroke-width="1.0" stroke-linejoin="round"/>
<line x1="394.70" y1="134.72" x2="391.92" y2="133.12" stroke="#e5484f" stroke-width="0.75" stroke-linecap="round"/>
<line x1="391.92" y1="127.48" x2="394.70" y2="125.88" stroke="#e5484f" stroke-width="0.75" stroke-linecap="round"/>
<line x1="399.58" y1="128.69" x2="399.58" y2="131.91" stroke="#e5484f" stroke-width="0.75" stroke-linecap="round"/>
<polygon points="529.70,97.40 524.16,94.20 524.16,87.80 529.70,84.60 535.24,87.80 535.24,94.20" fill="none" stroke="#e5484f" stroke-width="1.0" stroke-linejoin="round"/>
<line x1="529.00" y1="95.42" x2="526.22" y2="93.82" stroke="#e5484f" stroke-width="0.75" stroke-linecap="round"/>
<line x1="526.22" y1="88.18" x2="529.00" y2="86.58" stroke="#e5484f" stroke-width="0.75" stroke-linecap="round"/>
<line x1="533.88" y1="89.39" x2="533.88" y2="92.61" stroke="#e5484f" stroke-width="0.75" stroke-linecap="round"/>
<line x1="524.16" y1="87.80" x2="518.27" y2="84.40" stroke="#e5484f" stroke-width="0.95" stroke-linecap="round"/>
<polygon points="507.18,78.00 512.73,74.80 518.27,78.00 518.27,84.40 512.73,87.60 507.18,84.40" fill="none" stroke="#e5484f" stroke-width="1.0" stroke-linejoin="round"/>
<line x1="509.24" y1="78.38" x2="512.03" y2="76.78" stroke="#e5484f" stroke-width="0.75" stroke-linecap="round"/>
<line x1="516.91" y1="79.59" x2="516.91" y2="82.81" stroke="#e5484f" stroke-width="0.75" stroke-linecap="round"/>
<line x1="512.03" y1="85.62" x2="509.24" y2="84.02" stroke="#e5484f" stroke-width="0.75" stroke-linecap="round"/>
<line x1="535.24" y1="87.80" x2="541.13" y2="84.40" stroke="#e5484f" stroke-width="0.95" stroke-linecap="round"/>
<polygon points="552.22,78.00 552.22,84.40 546.67,87.60 541.13,84.40 541.13,78.00 546.67,74.80" fill="none" stroke="#e5484f" stroke-width="1.0" stroke-linejoin="round"/>
<line x1="550.86" y1="79.59" x2="550.86" y2="82.81" stroke="#e5484f" stroke-width="0.75" stroke-linecap="round"/>
<line x1="545.97" y1="85.62" x2="543.19" y2="84.02" stroke="#e5484f" stroke-width="0.75" stroke-linecap="round"/>
<line x1="543.19" y1="78.38" x2="545.97" y2="76.78" stroke="#e5484f" stroke-width="0.75" stroke-linecap="round"/>
<line x1="529.70" y1="97.40" x2="529.70" y2="104.20" stroke="#e5484f" stroke-width="0.95" stroke-linecap="round"/>
<polygon points="529.70,117.00 524.16,113.80 524.16,107.40 529.70,104.20 535.24,107.40 535.24,113.80" fill="none" stroke="#e5484f" stroke-width="1.0" stroke-linejoin="round"/>
<line x1="529.00" y1="115.02" x2="526.22" y2="113.42" stroke="#e5484f" stroke-width="0.75" stroke-linecap="round"/>
<line x1="526.22" y1="107.78" x2="529.00" y2="106.18" stroke="#e5484f" stroke-width="0.75" stroke-linecap="round"/>
<line x1="533.88" y1="108.99" x2="533.88" y2="112.21" stroke="#e5484f" stroke-width="0.75" stroke-linecap="round"/>
<polygon points="479.40,223.10 473.86,219.90 473.86,213.50 479.40,210.30 484.94,213.50 484.94,219.90" fill="none" stroke="#e5484f" stroke-width="1.0" stroke-linejoin="round"/>
<line x1="478.70" y1="221.12" x2="475.92" y2="219.52" stroke="#e5484f" stroke-width="0.75" stroke-linecap="round"/>
<line x1="475.92" y1="213.88" x2="478.70" y2="212.28" stroke="#e5484f" stroke-width="0.75" stroke-linecap="round"/>
<line x1="483.58" y1="215.09" x2="483.58" y2="218.31" stroke="#e5484f" stroke-width="0.75" stroke-linecap="round"/>
<line x1="473.86" y1="213.50" x2="467.97" y2="210.10" stroke="#e5484f" stroke-width="0.95" stroke-linecap="round"/>
<polygon points="456.88,203.70 462.43,200.50 467.97,203.70 467.97,210.10 462.43,213.30 456.88,210.10" fill="none" stroke="#e5484f" stroke-width="1.0" stroke-linejoin="round"/>
<line x1="458.94" y1="204.08" x2="461.73" y2="202.48" stroke="#e5484f" stroke-width="0.75" stroke-linecap="round"/>
<line x1="466.61" y1="205.29" x2="466.61" y2="208.51" stroke="#e5484f" stroke-width="0.75" stroke-linecap="round"/>
<line x1="461.73" y1="211.32" x2="458.94" y2="209.72" stroke="#e5484f" stroke-width="0.75" stroke-linecap="round"/>
<line x1="484.94" y1="213.50" x2="490.83" y2="210.10" stroke="#e5484f" stroke-width="0.95" stroke-linecap="round"/>
<polygon points="501.92,203.70 501.92,210.10 496.37,213.30 490.83,210.10 490.83,203.70 496.37,200.50" fill="none" stroke="#e5484f" stroke-width="1.0" stroke-linejoin="round"/>
<line x1="500.56" y1="205.29" x2="500.56" y2="208.51" stroke="#e5484f" stroke-width="0.75" stroke-linecap="round"/>
<line x1="495.67" y1="211.32" x2="492.89" y2="209.72" stroke="#e5484f" stroke-width="0.75" stroke-linecap="round"/>
<line x1="492.89" y1="204.08" x2="495.67" y2="202.48" stroke="#e5484f" stroke-width="0.75" stroke-linecap="round"/>
<line x1="479.40" y1="223.10" x2="479.40" y2="229.90" stroke="#e5484f" stroke-width="0.95" stroke-linecap="round"/>
<polygon points="479.40,242.70 473.86,239.50 473.86,233.10 479.40,229.90 484.94,233.10 484.94,239.50" fill="none" stroke="#e5484f" stroke-width="1.0" stroke-linejoin="round"/>
<line x1="478.70" y1="240.72" x2="475.92" y2="239.12" stroke="#e5484f" stroke-width="0.75" stroke-linecap="round"/>
<line x1="475.92" y1="233.48" x2="478.70" y2="231.88" stroke="#e5484f" stroke-width="0.75" stroke-linecap="round"/>
<line x1="483.58" y1="234.69" x2="483.58" y2="237.91" stroke="#e5484f" stroke-width="0.75" stroke-linecap="round"/>
<line x1="400.94" y1="113.90" x2="404.80" y2="116.30" stroke="#e5484f" stroke-width="0.95" stroke-linecap="round"/>
<text x="406.3" y="119.0" font-size="4.8" text-anchor="middle" fill="#7a2d7e" font-weight="bold">O</text>
<polyline points="407.20,120.20 407.80,124.50 412.20,127.50 412.20,130.60" fill="none" stroke="#7a2d7e" stroke-width="0.95" stroke-linejoin="round" stroke-linecap="round"/>
<text x="410.7" y="135.5" font-size="4.3" text-anchor="middle" fill="#7a2d7e" font-weight="bold">HN</text>
<line x1="413.80" y1="134.60" x2="417.30" y2="136.50" stroke="#7a2d7e" stroke-width="0.95" stroke-linecap="round"/>
<line x1="416.60" y1="136.50" x2="416.60" y2="140.80" stroke="#7a2d7e" stroke-width="0.7" stroke-linecap="round"/>
<line x1="418.00" y1="136.50" x2="418.00" y2="140.80" stroke="#7a2d7e" stroke-width="0.7" stroke-linecap="round"/>
<text x="417.3" y="145.3" font-size="4.8" text-anchor="middle" fill="#7a2d7e" font-weight="bold">O</text>
<line x1="417.30" y1="136.50" x2="421.80" y2="134.10" stroke="#7a2d7e" stroke-width="0.95" stroke-linecap="round"/>
<text x="423.8" y="135.6" font-size="4.8" text-anchor="middle" fill="#7a2d7e" font-weight="bold">O</text>
<line x1="425.60" y1="134.30" x2="428.90" y2="134.70" stroke="#7a2d7e" stroke-width="0.95" stroke-linecap="round"/>
<line x1="428.90" y1="134.70" x2="428.90" y2="129.50" stroke="#7a2d7e" stroke-width="0.95" stroke-linecap="round"/>
<line x1="428.90" y1="134.70" x2="434.20" y2="134.20" stroke="#7a2d7e" stroke-width="0.95" stroke-linecap="round"/>
<line x1="428.90" y1="134.70" x2="428.90" y2="141.00" stroke="#7a2d7e" stroke-width="0.95" stroke-linecap="round"/>
<line x1="524.16" y1="94.20" x2="520.00" y2="96.50" stroke="#e5484f" stroke-width="0.95" stroke-linecap="round"/>
<text x="518.4" y="99.3" font-size="4.8" text-anchor="middle" fill="#7a2d7e" font-weight="bold">O</text>
<polyline points="516.80,96.50 513.30,94.50 507.70,97.10 503.60,95.30" fill="none" stroke="#7a2d7e" stroke-width="0.95" stroke-linejoin="round" stroke-linecap="round"/>
<text x="501.8" y="96.3" font-size="4.3" text-anchor="middle" fill="#7a2d7e" font-weight="bold">N</text>
<text x="501.8" y="92.0" font-size="4.0" text-anchor="middle" fill="#7a2d7e" font-weight="bold">H</text>
<line x1="500.00" y1="95.50" x2="496.00" y2="97.10" stroke="#7a2d7e" stroke-width="0.95" stroke-linecap="round"/>
<line x1="496.30" y1="96.47" x2="492.30" y2="94.57" stroke="#7a2d7e" stroke-width="0.7" stroke-linecap="round"/>
<line x1="495.70" y1="97.73" x2="491.70" y2="95.83" stroke="#7a2d7e" stroke-width="0.7" stroke-linecap="round"/>
<text x="490.3" y="96.3" font-size="4.8" text-anchor="middle" fill="#7a2d7e" font-weight="bold">O</text>
<line x1="496.00" y1="97.10" x2="496.00" y2="101.60" stroke="#7a2d7e" stroke-width="0.95" stroke-linecap="round"/>
<text x="496.0" y="105.9" font-size="4.8" text-anchor="middle" fill="#7a2d7e" font-weight="bold">O</text>
<line x1="495.00" y1="105.90" x2="490.80" y2="107.80" stroke="#7a2d7e" stroke-width="0.95" stroke-linecap="round"/>
<line x1="490.80" y1="107.80" x2="485.20" y2="104.20" stroke="#7a2d7e" stroke-width="0.95" stroke-linecap="round"/>
<line x1="490.80" y1="107.80" x2="496.00" y2="110.90" stroke="#7a2d7e" stroke-width="0.95" stroke-linecap="round"/>
<line x1="490.80" y1="107.80" x2="490.30" y2="113.40" stroke="#7a2d7e" stroke-width="0.95" stroke-linecap="round"/>
<line x1="479.40" y1="210.30" x2="479.40" y2="206.30" stroke="#e5484f" stroke-width="0.95" stroke-linecap="round"/>
<text x="479.4" y="206.2" font-size="4.8" text-anchor="middle" fill="#7a2d7e" font-weight="bold">O</text>
<polyline points="481.00,203.00 484.50,201.40 484.50,195.30 489.00,192.90" fill="none" stroke="#7a2d7e" stroke-width="0.95" stroke-linejoin="round" stroke-linecap="round"/>
<text x="492.4" y="193.6" font-size="4.3" text-anchor="middle" fill="#7a2d7e" font-weight="bold">NH</text>
<line x1="490.70" y1="189.80" x2="490.70" y2="185.00" stroke="#7a2d7e" stroke-width="0.95" stroke-linecap="round"/>
<line x1="491.05" y1="185.61" x2="494.55" y2="183.61" stroke="#7a2d7e" stroke-width="0.7" stroke-linecap="round"/>
<line x1="490.35" y1="184.39" x2="493.85" y2="182.39" stroke="#7a2d7e" stroke-width="0.7" stroke-linecap="round"/>
<text x="496.0" y="183.7" font-size="4.8" text-anchor="middle" fill="#7a2d7e" font-weight="bold">O</text>
<line x1="490.70" y1="185.00" x2="487.00" y2="183.00" stroke="#7a2d7e" stroke-width="0.95" stroke-linecap="round"/>
<text x="485.0" y="183.7" font-size="4.8" text-anchor="middle" fill="#7a2d7e" font-weight="bold">O</text>
<line x1="483.20" y1="182.60" x2="479.40" y2="184.00" stroke="#7a2d7e" stroke-width="0.95" stroke-linecap="round"/>
<line x1="479.40" y1="184.00" x2="479.40" y2="178.40" stroke="#7a2d7e" stroke-width="0.95" stroke-linecap="round"/>
<line x1="479.40" y1="184.00" x2="473.80" y2="182.00" stroke="#7a2d7e" stroke-width="0.95" stroke-linecap="round"/>
<line x1="479.40" y1="184.00" x2="479.40" y2="191.20" stroke="#7a2d7e" stroke-width="0.95" stroke-linecap="round"/>
<line x1="495.86" y1="77.71" x2="499.77" y2="77.81" stroke="#2f6cb5" stroke-width="0.9" stroke-linecap="round"/>
<line x1="499.75" y1="78.56" x2="502.04" y2="78.62" stroke="#333" stroke-width="0.7" stroke-linecap="round"/>
<line x1="499.79" y1="77.06" x2="502.08" y2="77.12" stroke="#333" stroke-width="0.7" stroke-linecap="round"/>
<line x1="502.06" y1="77.87" x2="507.18" y2="78.00" stroke="#e5484f" stroke-width="1.0" stroke-linecap="round"/>
<line x1="534.77" y1="126.95" x2="533.02" y2="123.52" stroke="#2f6cb5" stroke-width="0.9" stroke-linecap="round"/>
<line x1="533.69" y1="123.18" x2="532.66" y2="121.16" stroke="#333" stroke-width="0.7" stroke-linecap="round"/>
<line x1="532.35" y1="123.86" x2="531.33" y2="121.84" stroke="#333" stroke-width="0.7" stroke-linecap="round"/>
<line x1="531.99" y1="121.50" x2="529.70" y2="117.00" stroke="#e5484f" stroke-width="1.0" stroke-linecap="round"/>
<line x1="507.41" y1="194.38" x2="505.51" y2="197.59" stroke="#2f6cb5" stroke-width="0.9" stroke-linecap="round"/>
<line x1="504.87" y1="197.21" x2="503.76" y2="199.10" stroke="#333" stroke-width="0.7" stroke-linecap="round"/>
<line x1="506.16" y1="197.98" x2="505.05" y2="199.86" stroke="#333" stroke-width="0.7" stroke-linecap="round"/>
<line x1="504.40" y1="199.48" x2="501.92" y2="203.70" stroke="#e5484f" stroke-width="1.0" stroke-linecap="round"/>
<line x1="444.81" y1="204.41" x2="448.98" y2="204.17" stroke="#2f6cb5" stroke-width="0.9" stroke-linecap="round"/>
<line x1="449.02" y1="204.92" x2="451.46" y2="204.77" stroke="#333" stroke-width="0.7" stroke-linecap="round"/>
<line x1="448.93" y1="203.42" x2="451.38" y2="203.27" stroke="#333" stroke-width="0.7" stroke-linecap="round"/>
<line x1="451.42" y1="204.02" x2="456.88" y2="203.70" stroke="#e5484f" stroke-width="1.0" stroke-linecap="round"/>
<line x1="400.05" y1="147.07" x2="398.45" y2="143.49" stroke="#2f6cb5" stroke-width="0.9" stroke-linecap="round"/>
<line x1="399.13" y1="143.19" x2="398.19" y2="141.09" stroke="#333" stroke-width="0.7" stroke-linecap="round"/>
<line x1="397.76" y1="143.80" x2="396.82" y2="141.70" stroke="#333" stroke-width="0.7" stroke-linecap="round"/>
<line x1="397.50" y1="141.39" x2="395.40" y2="136.70" stroke="#e5484f" stroke-width="1.0" stroke-linecap="round"/>
<line x1="423.75" y1="87.79" x2="421.73" y2="91.21" stroke="#2f6cb5" stroke-width="0.9" stroke-linecap="round"/>
<line x1="421.09" y1="90.83" x2="419.91" y2="92.84" stroke="#333" stroke-width="0.7" stroke-linecap="round"/>
<line x1="422.38" y1="91.59" x2="421.20" y2="93.60" stroke="#333" stroke-width="0.7" stroke-linecap="round"/>
<line x1="420.55" y1="93.22" x2="417.92" y2="97.70" stroke="#e5484f" stroke-width="1.0" stroke-linecap="round"/>
<line x1="451.89" y1="20.22" x2="449.54" y2="16.15" stroke="#333" stroke-width="0.7" stroke-linecap="round"/>
<line x1="450.59" y1="20.97" x2="448.24" y2="16.90" stroke="#333" stroke-width="0.7" stroke-linecap="round"/>
<polyline points="444.94,18.68 445.01,16.56 446.89,17.56 446.96,15.44 448.84,16.43 448.91,14.31 450.79,15.31 450.86,13.19 452.73,14.18" fill="none" stroke="#333" stroke-width="0.8" stroke-linejoin="round" stroke-linecap="round"/>
<line x1="579.11" y1="185.10" x2="583.81" y2="185.10" stroke="#333" stroke-width="0.7" stroke-linecap="round"/>
<line x1="579.11" y1="183.60" x2="583.81" y2="183.60" stroke="#333" stroke-width="0.7" stroke-linecap="round"/>
<polyline points="583.91,179.85 585.71,180.97 583.91,182.10 585.71,183.22 583.91,184.35 585.71,185.47 583.91,186.60 585.71,187.72 583.91,188.85" fill="none" stroke="#333" stroke-width="0.8" stroke-linejoin="round" stroke-linecap="round"/>
<line x1="372.11" y1="213.98" x2="369.76" y2="218.05" stroke="#333" stroke-width="0.7" stroke-linecap="round"/>
<line x1="373.41" y1="214.73" x2="371.06" y2="218.80" stroke="#333" stroke-width="0.7" stroke-linecap="round"/>
<polyline points="374.25,220.77 372.38,221.76 372.31,219.64 370.43,220.64 370.36,218.52 368.48,219.51 368.41,217.39 366.53,218.39 366.46,216.27" fill="none" stroke="#333" stroke-width="0.8" stroke-linejoin="round" stroke-linecap="round"/>
<line x1="372.88" y1="97.70" x2="367.88" y2="97.70" stroke="#e5484f" stroke-width="1.0" stroke-linecap="round"/>
<line x1="367.88" y1="96.95" x2="364.38" y2="96.95" stroke="#333" stroke-width="0.7" stroke-linecap="round"/>
<line x1="367.88" y1="98.45" x2="364.38" y2="98.45" stroke="#333" stroke-width="0.7" stroke-linecap="round"/>
<text x="362.6" y="99.3" font-size="4.3" text-anchor="middle" fill="#333" font-weight="bold">N</text>
<polyline points="360.28,102.20 358.48,101.08 360.28,99.95 358.48,98.83 360.28,97.70 358.48,96.58 360.28,95.45 358.48,94.33 360.28,93.20" fill="none" stroke="#333" stroke-width="0.8" stroke-linejoin="round" stroke-linecap="round"/>
<line x1="552.22" y1="78.00" x2="554.72" y2="73.67" stroke="#e5484f" stroke-width="1.0" stroke-linecap="round"/>
<line x1="555.37" y1="74.04" x2="557.12" y2="71.01" stroke="#333" stroke-width="0.7" stroke-linecap="round"/>
<line x1="554.07" y1="73.29" x2="555.82" y2="70.26" stroke="#333" stroke-width="0.7" stroke-linecap="round"/>
<text x="557.4" y="70.7" font-size="4.3" text-anchor="middle" fill="#333" font-weight="bold">N</text>
<polyline points="554.62,64.84 556.49,63.84 556.57,65.96 558.44,64.97 558.52,67.09 560.39,66.09 560.47,68.21 562.34,67.22 562.41,69.34" fill="none" stroke="#333" stroke-width="0.8" stroke-linejoin="round" stroke-linecap="round"/>
<line x1="479.40" y1="242.70" x2="481.90" y2="247.03" stroke="#e5484f" stroke-width="1.0" stroke-linecap="round"/>
<line x1="481.25" y1="247.41" x2="483.00" y2="250.44" stroke="#333" stroke-width="0.7" stroke-linecap="round"/>
<line x1="482.55" y1="246.66" x2="484.30" y2="249.69" stroke="#333" stroke-width="0.7" stroke-linecap="round"/>
<text x="484.5" y="253.2" font-size="4.3" text-anchor="middle" fill="#333" font-weight="bold">N</text>
<polyline points="489.60,251.36 489.52,253.48 487.65,252.49 487.57,254.61 485.70,253.61 485.63,255.73 483.75,254.74 483.68,256.86 481.80,255.86" fill="none" stroke="#333" stroke-width="0.8" stroke-linejoin="round" stroke-linecap="round"/>
<text x="447.2" y="147.0" font-size="12.0" text-anchor="start" fill="#1a1a1a" >Th-TF COF</text>
<text x="537.0" y="31.0" font-size="11.9" text-anchor="start" fill="#1a1a1a" >Protonate</text>
<text x="537.8" y="262.6" font-size="11.9" text-anchor="start" fill="#1a1a1a" >Protonate</text>
<text x="576.0" y="67.6" font-size="12.1" text-anchor="start" fill="#1a1a1a" >H<tspan font-size="7.5" dy="-4.6">+</tspan></text>
<text x="563.3" y="223.9" font-size="12.1" text-anchor="start" fill="#1a1a1a" >H<tspan font-size="7.5" dy="-4.6">+</tspan></text>
<path d="M538.7,66.4 C548,53 560,43.2 578,41.6 L573.4,36.4 L589.1,45.4 L587.7,51.8 L585.4,47.3 C567,45.5 552,52.5 538.7,66.4 Z" fill="#7a1526"/>
<path d="M544.4,213.3 C550,226 560,238 577.7,243.5 L574.6,247.9 L590.8,241.3 L590.4,235.2 L587.3,238.7 C575,238 560,232 544.4,213.3 Z" fill="#1c3466"/>
<line x1="603.20" y1="11.10" x2="603.20" y2="34.10" stroke="#7a2d7e" stroke-width="1.3" stroke-linecap="round"/>
<line x1="593.20" y1="16.80" x2="603.20" y2="21.90" stroke="#7a2d7e" stroke-width="1.3" stroke-linecap="round"/>
<line x1="603.20" y1="21.90" x2="610.00" y2="18.60" stroke="#7a2d7e" stroke-width="1.3" stroke-linecap="round"/>
<text x="613.1" y="19.6" font-size="7" text-anchor="middle" fill="#7a2d7e">O</text>
<line x1="616.60" y1="18.60" x2="623.60" y2="22.90" stroke="#7a2d7e" stroke-width="1.3" stroke-linecap="round"/>
<line x1="623.60" y1="22.90" x2="630.30" y2="18.60" stroke="#7a2d7e" stroke-width="1.3" stroke-linecap="round"/>
<line x1="623.00" y1="20.60" x2="629.40" y2="16.60" stroke="#7a2d7e" stroke-width="1.3" stroke-linecap="round"/>
<text x="633.2" y="19.6" font-size="7" text-anchor="middle" fill="#7a2d7e">O</text>
<line x1="623.60" y1="22.90" x2="623.60" y2="30.60" stroke="#7a2d7e" stroke-width="1.3" stroke-linecap="round"/>
<text x="619.5" y="37.0" font-size="6.8" fill="#7a2d7e">NH<tspan font-size="4.5" dy="1.5">2</tspan><tspan font-size="4.5" dy="-5">+</tspan></text>
<polyline points="620.00,35.60 614.10,40.30 614.10,52.00 606.50,55.60" fill="none" stroke="#7a2d7e" stroke-width="1.3" stroke-linejoin="round" stroke-linecap="round"/>
<text x="603.2" y="60.0" font-size="7" text-anchor="middle" fill="#7a2d7e">O</text>
<polygon points="610.30,216.80 618.61,221.60 618.61,231.20 610.30,236.00 601.99,231.20 601.99,221.60" fill="none" stroke="#2f6cb5" stroke-width="1.3" stroke-linejoin="round"/>
<line x1="611.36" y1="219.68" x2="615.58" y2="222.12" stroke="#2f6cb5" stroke-width="1.0" stroke-linecap="round"/>
<line x1="615.58" y1="230.68" x2="611.36" y2="233.12" stroke="#2f6cb5" stroke-width="1.0" stroke-linecap="round"/>
<line x1="603.95" y1="228.84" x2="603.95" y2="223.96" stroke="#2f6cb5" stroke-width="1.0" stroke-linecap="round"/>
<line x1="601.99" y1="221.60" x2="594.30" y2="216.70" stroke="#2f6cb5" stroke-width="1.3" stroke-linecap="round"/>
<line x1="618.61" y1="231.20" x2="626.50" y2="235.60" stroke="#2f6cb5" stroke-width="1.3" stroke-linecap="round"/>
<line x1="626.50" y1="235.60" x2="626.50" y2="242.50" stroke="#2f6cb5" stroke-width="1.3" stroke-linecap="round"/>
<line x1="624.60" y1="236.50" x2="624.60" y2="242.50" stroke="#2f6cb5" stroke-width="1.3" stroke-linecap="round"/>
<text x="626.0" y="248.3" font-size="7" text-anchor="middle" fill="#2f6cb5">O</text>
<line x1="626.50" y1="235.60" x2="632.50" y2="232.60" stroke="#2f6cb5" stroke-width="1.3" stroke-linecap="round"/>
<text x="635.4" y="236.0" font-size="6.8" text-anchor="middle" fill="#2f6cb5">N</text>
<text x="635.0" y="229.0" font-size="5.5" text-anchor="middle" fill="#2f6cb5" font-weight="bold">H</text>
<text x="639.0" y="226.3" font-size="4.5" text-anchor="middle" fill="#2f6cb5" font-weight="bold">+</text>
<line x1="638.50" y1="234.00" x2="641.50" y2="235.80" stroke="#2f6cb5" stroke-width="1.3" stroke-linecap="round"/>
<text x="643.8" y="240.0" font-size="6.8" text-anchor="middle" fill="#2f6cb5">N</text>
<line x1="646.60" y1="236.30" x2="652.20" y2="233.00" stroke="#2f6cb5" stroke-width="1.3" stroke-linecap="round"/>
<line x1="646.00" y1="234.20" x2="651.40" y2="231.10" stroke="#2f6cb5" stroke-width="1.3" stroke-linecap="round"/>
<line x1="610.30" y1="236.00" x2="610.40" y2="242.80" stroke="#2f6cb5" stroke-width="1.3" stroke-linecap="round"/>
<text x="610.7" y="248.6" font-size="7" text-anchor="middle" fill="#2f6cb5">O</text>
<polyline points="608.40,248.00 602.50,251.00 602.50,258.70 594.30,264.60" fill="none" stroke="#2f6cb5" stroke-width="1.3" stroke-linejoin="round" stroke-linecap="round"/>
<defs><filter id="spkE" x="360" y="335" width="265" height="155" filterUnits="userSpaceOnUse" color-interpolation-filters="sRGB">
  <feGaussianBlur in="SourceAlpha" stdDeviation="3.0" result="d"/>
  <feColorMatrix in="d" type="matrix" values="0 0 0 1 0  0 0 0 1 0  0 0 0 1 0  0 0 0 0 1" result="dg"/>
  <feTurbulence type="fractalNoise" baseFrequency="1.2" numOctaves="1" seed="5" result="n"/>
  <feColorMatrix in="n" type="matrix" values="1 0 0 0 0  1 0 0 0 0  1 0 0 0 0  0 0 0 0 1" result="ng"/>
  <feComposite in="dg" in2="ng" operator="arithmetic" k1="0" k2="0.8" k3="0.4" k4="0" result="s"/>
  <feComponentTransfer in="s">
    <feFuncR type="discrete" tableValues="0.216 0.216 0.216 0.216 0.216 0.216 0.216 0.216 0.216 0.216 0.216 0.216 0.216 0.216 0.216 0.216 0.216 0.216 0.216 0.216 0.216 0.216 0.216 0.216 0.216 0.216 0.216 0.216 0.216 0.216 0.216 0.216 0.216 0.216 0.216 0.216 0.216 0.216 0.216 0.216 0.216 0.216 0.231 0.231 0.231 0.231 0.231 0.231 0.231 0.231 0.129 0.129 0.129 0.129 0.129 0.129 0.129 0.129 0.129 0.129 0.369 0.369 0.369 0.369 0.369 0.369 0.369 0.369 0.369 0.369 0.369 0.369 0.941 0.941 0.941 0.941 0.941 0.941 0.941 0.941 0.941 0.941 0.941 0.941 0.941 0.941 0.941 0.941 0.941 0.941 0.941 0.941 0.941 0.941 0.941 0.941 0.941 0.941 0.941 0.941"/>
    <feFuncG type="discrete" tableValues="0.118 0.118 0.118 0.118 0.118 0.118 0.118 0.118 0.118 0.118 0.118 0.118 0.118 0.118 0.118 0.118 0.118 0.118 0.118 0.118 0.118 0.118 0.118 0.118 0.118 0.118 0.118 0.118 0.118 0.118 0.118 0.118 0.118 0.118 0.118 0.118 0.118 0.118 0.118 0.118 0.118 0.118 0.322 0.322 0.322 0.322 0.322 0.322 0.322 0.322 0.569 0.569 0.569 0.569 0.569 0.569 0.569 0.569 0.569 0.569 0.788 0.788 0.788 0.788 0.788 0.788 0.788 0.788 0.788 0.788 0.788 0.788 0.898 0.898 0.898 0.898 0.898 0.898 0.898 0.898 0.898 0.898 0.898 0.898 0.898 0.898 0.898 0.898 0.898 0.898 0.898 0.898 0.898 0.898 0.898 0.898 0.898 0.898 0.898 0.898"/>
    <feFuncB type="discrete" tableValues="0.298 0.298 0.298 0.298 0.298 0.298 0.298 0.298 0.298 0.298 0.298 0.298 0.298 0.298 0.298 0.298 0.298 0.298 0.298 0.298 0.298 0.298 0.298 0.298 0.298 0.298 0.298 0.298 0.298 0.298 0.298 0.298 0.298 0.298 0.298 0.298 0.298 0.298 0.298 0.298 0.298 0.298 0.545 0.545 0.545 0.545 0.545 0.545 0.545 0.545 0.549 0.549 0.549 0.549 0.549 0.549 0.549 0.549 0.549 0.549 0.384 0.384 0.384 0.384 0.384 0.384 0.384 0.384 0.384 0.384 0.384 0.384 0.165 0.165 0.165 0.165 0.165 0.165 0.165 0.165 0.165 0.165 0.165 0.165 0.165 0.165 0.165 0.165 0.165 0.165 0.165 0.165 0.165 0.165 0.165 0.165 0.165 0.165 0.165 0.165"/>
    <feFuncA type="linear" slope="0" intercept="1"/>
  </feComponentTransfer>
</filter><filter id="spkF" x="370" y="585" width="260" height="240" filterUnits="userSpaceOnUse" color-interpolation-filters="sRGB">
  <feGaussianBlur in="SourceAlpha" stdDeviation="5.0" result="d"/>
  <feColorMatrix in="d" type="matrix" values="0 0 0 1 0  0 0 0 1 0  0 0 0 1 0  0 0 0 0 1" result="dg"/>
  <feTurbulence type="fractalNoise" baseFrequency="0.6" numOctaves="2" seed="11" result="n"/>
  <feColorMatrix in="n" type="matrix" values="1 0 0 0 0  1 0 0 0 0  1 0 0 0 0  0 0 0 0 1" result="ng"/>
  <feComposite in="dg" in2="ng" operator="arithmetic" k1="0" k2="0.5" k3="0.7" k4="0" result="s"/>
  <feComponentTransfer in="s">
    <feFuncR type="discrete" tableValues="0.235 0.235 0.235 0.235 0.235 0.235 0.235 0.235 0.235 0.235 0.235 0.235 0.235 0.235 0.235 0.235 0.235 0.235 0.235 0.235 0.235 0.235 0.235 0.235 0.235 0.235 0.235 0.235 0.235 0.235 0.235 0.235 0.235 0.235 0.235 0.235 0.235 0.235 0.235 0.235 0.235 0.235 0.235 0.235 0.235 0.235 0.235 0.235 0.235 0.235 0.235 0.235 0.267 0.267 0.267 0.267 0.267 0.267 0.267 0.267 0.267 0.267 0.267 0.133 0.133 0.133 0.133 0.133 0.133 0.133 0.133 0.133 0.133 0.722 0.722 0.722 0.722 0.722 0.722 0.722 0.722 0.722 0.722 0.722 0.722 0.722 0.722 0.722 0.722 0.722 0.722 0.722 0.722 0.722 0.722 0.722 0.722 0.722 0.722 0.722"/>
    <feFuncG type="discrete" tableValues="0.122 0.122 0.122 0.122 0.122 0.122 0.122 0.122 0.122 0.122 0.122 0.122 0.122 0.122 0.122 0.122 0.122 0.122 0.122 0.122 0.122 0.122 0.122 0.122 0.122 0.122 0.122 0.122 0.122 0.122 0.122 0.122 0.122 0.122 0.122 0.122 0.122 0.122 0.122 0.122 0.122 0.122 0.122 0.122 0.122 0.122 0.122 0.122 0.122 0.122 0.122 0.122 0.384 0.384 0.384 0.384 0.384 0.384 0.384 0.384 0.384 0.384 0.384 0.627 0.627 0.627 0.627 0.627 0.627 0.627 0.627 0.627 0.627 0.871 0.871 0.871 0.871 0.871 0.871 0.871 0.871 0.871 0.871 0.871 0.871 0.871 0.871 0.871 0.871 0.871 0.871 0.871 0.871 0.871 0.871 0.871 0.871 0.871 0.871 0.871"/>
    <feFuncB type="discrete" tableValues="0.322 0.322 0.322 0.322 0.322 0.322 0.322 0.322 0.322 0.322 0.322 0.322 0.322 0.322 0.322 0.322 0.322 0.322 0.322 0.322 0.322 0.322 0.322 0.322 0.322 0.322 0.322 0.322 0.322 0.322 0.322 0.322 0.322 0.322 0.322 0.322 0.322 0.322 0.322 0.322 0.322 0.322 0.322 0.322 0.322 0.322 0.322 0.322 0.322 0.322 0.322 0.322 0.616 0.616 0.616 0.616 0.616 0.616 0.616 0.616 0.616 0.616 0.616 0.529 0.529 0.529 0.529 0.529 0.529 0.529 0.529 0.529 0.529 0.227 0.227 0.227 0.227 0.227 0.227 0.227 0.227 0.227 0.227 0.227 0.227 0.227 0.227 0.227 0.227 0.227 0.227 0.227 0.227 0.227 0.227 0.227 0.227 0.227 0.227 0.227"/>
    <feFuncA type="linear" slope="0" intercept="1"/>
  </feComponentTransfer>
</filter>
<linearGradient id="viri" x1="0" y1="1" x2="0" y2="0">
  <stop offset="0" stop-color="#440154"/><stop offset="0.1" stop-color="#482475"/><stop offset="0.2" stop-color="#414487"/>
  <stop offset="0.3" stop-color="#355f8d"/><stop offset="0.4" stop-color="#2a788e"/><stop offset="0.5" stop-color="#21918c"/>
  <stop offset="0.6" stop-color="#22a884"/><stop offset="0.7" stop-color="#44bf70"/><stop offset="0.8" stop-color="#7ad151"/>
  <stop offset="0.9" stop-color="#bddf26"/><stop offset="1" stop-color="#fde725"/>
</linearGradient>
<clipPath id="cpE"><polygon points="374.2,480.4 532.7,480.4 610.0,344.5 452.5,344.5"/></clipPath>
<clipPath id="cpF"><rect x="386" y="601.3" width="225.8" height="205.3"/></clipPath>
</defs>
<text x="358.2" y="297.0" font-size="13.8" text-anchor="start" fill="#2a1d1d" >e</text>
<g clip-path="url(#cpE)">
<rect x="360" y="335" width="265" height="155" fill="#371e4c"/>
<g filter="url(#spkE)">
<rect x="360" y="335" width="265" height="155" fill="#000" fill-opacity="0.0"/>
<path d="M450,340 L477,340 L474,352 L469,371 L459,376 L452,366 Z" fill="#000" fill-opacity="0.41"/>
<path d="M470,340 L532,340 L526,347 L470,348 Z" fill="#000" fill-opacity="0.22"/>
<path d="M479,340 L511,340 L507,355 L498,368 L487,366 L481,355 Z" fill="#000" fill-opacity="0.42"/>
<path d="M486,346 L502,346 L498,362 L490,360 Z" fill="#000" fill-opacity="0.25"/>
<path d="M525,360 L545,350 L565,346 L580,352 L590,368 L590,398 L575,412 L548,414 L526,408 L519,390 Z" fill="#000" fill-opacity="0.33"/>
<path d="M530,356 L558,351 L562,367 L535,374 Z" fill="#000" fill-opacity="0.38"/>
<path d="M574,366 L590,370 L590,398 L576,401 Z" fill="#000" fill-opacity="0.4"/>
<path d="M521,384 L538,388 L551,409 L527,411 Z" fill="#000" fill-opacity="0.4"/>
<path d="M480,413 L490,430 L503,440 L506,447 L490,441 L470,440 L447,441 L460,430 Z" fill="#000" fill-opacity="0.48"/>
<path d="M474,417 L486,415 L490,434 L469,436 Z" fill="#000" fill-opacity="0.55"/>
<path d="M370,485 L390,441 L410,437 L428,450 L446,466 L448,485 Z" fill="#000" fill-opacity="0.34"/>
<path d="M395,440 L415,441 L418,459 L399,462 Z" fill="#000" fill-opacity="0.3"/>
<path d="M518,468 L540,462 L546,485 L518,485 Z" fill="#000" fill-opacity="0.42"/>
<path d="M533,438 L552,436 L554,451 L537,450 Z" fill="#000" fill-opacity="0.36"/>
<path d="M446,403 L455,404 L454,412 L445,412 Z" fill="#000" fill-opacity="0.6"/>
<path d="M560,446 L576,440 L571,462 L558,460 Z" fill="#000" fill-opacity="0.22"/>
<path d="M405,412 L414,410 L412,440 L402,442 Z" fill="#000" fill-opacity="0.24"/>
<path d="M494,436 L505,438 L505,448 L494,446 Z" fill="#000" fill-opacity="0.45"/>
<path d="M426,465 L444,462 L446,478 L428,478 Z" fill="#000" fill-opacity="0.26"/>
</g>
<polyline points="448.6,385.2 444.7,373.0" fill="none" stroke="#a0a0a0" stroke-width="2.4" stroke-linejoin="round"/>
<polyline points="448.6,385.2 462.7,388.7" fill="none" stroke="#a0a0a0" stroke-width="2.4" stroke-linejoin="round"/>
<polyline points="448.6,385.2 439.5,395.3" fill="none" stroke="#a0a0a0" stroke-width="2.4" stroke-linejoin="round"/>
<polyline points="444.7,373.0 444.6,363.4" fill="none" stroke="#a0a0a0" stroke-width="2.4" stroke-linejoin="round"/>
<polyline points="462.7,388.7 472.3,390.0 476.7,387.8 477.6,383.9 486.6,382.7" fill="none" stroke="#a0a0a0" stroke-width="2.4" stroke-linejoin="round"/>
<polyline points="499.8,381.8 505.9,368.6" fill="none" stroke="#a0a0a0" stroke-width="2.4" stroke-linejoin="round"/>
<polyline points="499.8,381.8 486.6,382.7" fill="none" stroke="#a0a0a0" stroke-width="2.4" stroke-linejoin="round"/>
<polyline points="499.8,381.8 506.7,394.6" fill="none" stroke="#a0a0a0" stroke-width="2.4" stroke-linejoin="round"/>
<polyline points="505.9,368.6 512.0,361.2 509.9,358.1" fill="none" stroke="#a0a0a0" stroke-width="2.4" stroke-linejoin="round"/>
<polyline points="512.0,361.2 515.5,360.8 520.0,357.3 522.6,356.4 527.0,351.0" fill="none" stroke="#a0a0a0" stroke-width="2.4" stroke-linejoin="round"/>
<polyline points="505.9,368.6 515.5,370.0 522.6,371.3 527.0,373.9 531.0,372.0" fill="none" stroke="#a0a0a0" stroke-width="2.4" stroke-linejoin="round"/>
<polyline points="486.6,382.7 480.5,375.7 477.0,366.0" fill="none" stroke="#a0a0a0" stroke-width="2.4" stroke-linejoin="round"/>
<polyline points="477.0,366.0 472.5,363.0" fill="none" stroke="#a0a0a0" stroke-width="2.4" stroke-linejoin="round"/>
<polyline points="477.0,366.0 481.0,361.5" fill="none" stroke="#a0a0a0" stroke-width="2.4" stroke-linejoin="round"/>
<polyline points="477.6,383.9 474.0,380.9" fill="none" stroke="#a0a0a0" stroke-width="2.4" stroke-linejoin="round"/>
<polyline points="506.7,394.6 502.3,401.2 497.0,401.6 496.2,406.0 490.9,405.1" fill="none" stroke="#a0a0a0" stroke-width="2.4" stroke-linejoin="round"/>
<polyline points="506.7,394.6 511.0,402.5 508.4,406.0" fill="none" stroke="#a0a0a0" stroke-width="2.4" stroke-linejoin="round"/>
<polyline points="511.0,402.5 513.7,402.1 516.4,398.6" fill="none" stroke="#a0a0a0" stroke-width="2.4" stroke-linejoin="round"/>
<polyline points="448.6,385.2 451.3,394.4 454.7,404.5 457.4,406.6 456.5,410.6" fill="none" stroke="#a0a0a0" stroke-width="2.4" stroke-linejoin="round"/>
<polyline points="457.4,406.6 461.6,406.0 465.5,408.6" fill="none" stroke="#a0a0a0" stroke-width="2.4" stroke-linejoin="round"/>
<polyline points="465.5,408.6 468.5,404.5" fill="none" stroke="#a0a0a0" stroke-width="2.4" stroke-linejoin="round"/>
<polyline points="465.5,408.6 470.0,411.0" fill="none" stroke="#a0a0a0" stroke-width="2.4" stroke-linejoin="round"/>
<polyline points="465.5,408.6 465.0,413.5" fill="none" stroke="#a0a0a0" stroke-width="2.4" stroke-linejoin="round"/>
<polyline points="428.0,433.5 414.9,433.5" fill="none" stroke="#a0a0a0" stroke-width="2.4" stroke-linejoin="round"/>
<polyline points="428.0,433.5 436.3,419.8" fill="none" stroke="#a0a0a0" stroke-width="2.4" stroke-linejoin="round"/>
<polyline points="428.0,433.5 436.8,445.3" fill="none" stroke="#a0a0a0" stroke-width="2.4" stroke-linejoin="round"/>
<polyline points="436.3,419.8 440.3,411.9 444.2,412.3" fill="none" stroke="#a0a0a0" stroke-width="2.4" stroke-linejoin="round"/>
<polyline points="440.3,411.9 437.7,409.7 435.0,406.2 433.7,404.0 439.5,395.3" fill="none" stroke="#a0a0a0" stroke-width="2.4" stroke-linejoin="round"/>
<polyline points="436.3,419.8 444.2,419.8 448.2,423.3 452.6,419.8 456.9,423.3" fill="none" stroke="#a0a0a0" stroke-width="2.4" stroke-linejoin="round"/>
<polyline points="414.9,433.5 412.3,422.8 416.6,418.9 415.8,411.0" fill="none" stroke="#a0a0a0" stroke-width="2.4" stroke-linejoin="round"/>
<polyline points="414.9,433.5 403.5,432.5" fill="none" stroke="#a0a0a0" stroke-width="2.4" stroke-linejoin="round"/>
<polyline points="436.8,445.3 443.8,449.7 442.9,454.5" fill="none" stroke="#a0a0a0" stroke-width="2.4" stroke-linejoin="round"/>
<polyline points="443.8,449.7 446.4,448.4 449.9,451.0 453.4,451.9 456.5,462.0" fill="none" stroke="#a0a0a0" stroke-width="2.4" stroke-linejoin="round"/>
<polyline points="436.8,445.3 434.2,451.9 429.8,453.2 428.0,458.0 424.5,458.9" fill="none" stroke="#a0a0a0" stroke-width="2.4" stroke-linejoin="round"/>
<polyline points="456.5,462.0 461.0,473.5 472.5,476.0" fill="none" stroke="#a0a0a0" stroke-width="2.4" stroke-linejoin="round"/>
<polyline points="461.0,473.5 458.0,481.0" fill="none" stroke="#a0a0a0" stroke-width="2.4" stroke-linejoin="round"/>
<polyline points="461.0,473.5 465.5,467.0 466.4,463.9 469.5,463.0 473.4,459.1 473.8,454.7 470.8,452.5" fill="none" stroke="#a0a0a0" stroke-width="2.4" stroke-linejoin="round"/>
<polyline points="473.8,454.7 477.3,453.8" fill="none" stroke="#a0a0a0" stroke-width="2.4" stroke-linejoin="round"/>
<polyline points="470.8,452.5 466.0,450.0" fill="none" stroke="#a0a0a0" stroke-width="2.4" stroke-linejoin="round"/>
<polyline points="466.0,450.0 461.5,447.0" fill="none" stroke="#a0a0a0" stroke-width="2.4" stroke-linejoin="round"/>
<polyline points="466.0,450.0 468.0,445.0" fill="none" stroke="#a0a0a0" stroke-width="2.4" stroke-linejoin="round"/>
<polyline points="466.0,450.0 462.0,454.0" fill="none" stroke="#a0a0a0" stroke-width="2.4" stroke-linejoin="round"/>
<polyline points="507.5,469.0 494.4,467.4" fill="none" stroke="#a0a0a0" stroke-width="2.4" stroke-linejoin="round"/>
<polyline points="507.5,469.0 514.5,455.7" fill="none" stroke="#a0a0a0" stroke-width="2.4" stroke-linejoin="round"/>
<polyline points="507.5,469.0 514.0,478.5" fill="none" stroke="#a0a0a0" stroke-width="2.4" stroke-linejoin="round"/>
<polyline points="494.4,467.4 489.6,460.0 492.7,455.6 488.3,451.6 488.3,446.8" fill="none" stroke="#a0a0a0" stroke-width="2.4" stroke-linejoin="round"/>
<polyline points="494.4,467.4 485.2,467.8 482.6,464.3" fill="none" stroke="#a0a0a0" stroke-width="2.4" stroke-linejoin="round"/>
<polyline points="485.2,467.8 483.0,470.5 484.8,473.5 478.0,477.0" fill="none" stroke="#a0a0a0" stroke-width="2.4" stroke-linejoin="round"/>
<polyline points="514.5,455.7 518.8,446.9 521.5,446.0" fill="none" stroke="#a0a0a0" stroke-width="2.4" stroke-linejoin="round"/>
<polyline points="518.8,446.9 514.9,445.6 514.9,441.2 516.0,437.0 518.4,431.1" fill="none" stroke="#a0a0a0" stroke-width="2.4" stroke-linejoin="round"/>
<polyline points="514.5,455.7 522.8,455.7 526.7,456.5 530.2,453.9 535.0,455.7" fill="none" stroke="#a0a0a0" stroke-width="2.4" stroke-linejoin="round"/>
<polyline points="527.8,421.8 518.4,431.1" fill="none" stroke="#a0a0a0" stroke-width="2.4" stroke-linejoin="round"/>
<polyline points="527.8,421.8 541.8,424.4" fill="none" stroke="#a0a0a0" stroke-width="2.4" stroke-linejoin="round"/>
<polyline points="527.8,421.8 525.1,410.4 522.5,402.5 516.4,398.6" fill="none" stroke="#a0a0a0" stroke-width="2.4" stroke-linejoin="round"/>
<polyline points="527.8,421.8 519.5,418.3 517.3,415.7 513.8,417.4 509.8,415.2 507.6,415.7 504.5,413.5" fill="none" stroke="#a0a0a0" stroke-width="2.4" stroke-linejoin="round"/>
<polyline points="507.6,415.7 505.4,420.5 499.7,420.9" fill="none" stroke="#a0a0a0" stroke-width="2.4" stroke-linejoin="round"/>
<polyline points="499.7,420.9 495.5,417.0" fill="none" stroke="#a0a0a0" stroke-width="2.4" stroke-linejoin="round"/>
<polyline points="499.7,420.9 497.0,426.0" fill="none" stroke="#a0a0a0" stroke-width="2.4" stroke-linejoin="round"/>
<polyline points="499.7,420.9 503.0,426.5" fill="none" stroke="#a0a0a0" stroke-width="2.4" stroke-linejoin="round"/>
<polyline points="541.8,424.4 551.4,425.3 556.7,424.4 561.0,425.3" fill="none" stroke="#a0a0a0" stroke-width="2.4" stroke-linejoin="round"/>
<polyline points="574.0,358.0 580.0,353.0 586.7,351.2 592.0,354.0 594.9,356.4" fill="none" stroke="#a0a0a0" stroke-width="2.4" stroke-linejoin="round"/>
<polyline points="594.9,356.4 599.3,353.4 603.0,348.0" fill="none" stroke="#a0a0a0" stroke-width="2.4" stroke-linejoin="round"/>
<polyline points="594.9,356.4 599.3,359.4" fill="none" stroke="#a0a0a0" stroke-width="2.4" stroke-linejoin="round"/>
<polyline points="521.9,346.7 528.0,349.0 536.8,348.9" fill="none" stroke="#a0a0a0" stroke-width="2.4" stroke-linejoin="round"/>
<polyline points="576.0,362.0 574.0,358.0" fill="none" stroke="#a0a0a0" stroke-width="2.4" stroke-linejoin="round"/>
<polygon points="452.7,387.6 448.6,389.9 444.5,387.6 444.5,382.8 448.6,380.5 452.7,382.8" fill="none" stroke="#a0a0a0" stroke-width="2.4"/>
<polygon points="448.8,375.4 444.7,377.7 440.6,375.4 440.6,370.6 444.7,368.3 448.8,370.6" fill="none" stroke="#a0a0a0" stroke-width="2.4"/>
<polygon points="466.8,391.1 462.7,393.4 458.6,391.1 458.6,386.3 462.7,384.0 466.8,386.3" fill="none" stroke="#a0a0a0" stroke-width="2.4"/>
<polygon points="443.6,397.7 439.5,400.0 435.4,397.7 435.4,392.9 439.5,390.6 443.6,392.9" fill="none" stroke="#a0a0a0" stroke-width="2.4"/>
<polygon points="503.9,384.2 499.8,386.5 495.7,384.2 495.7,379.4 499.8,377.1 503.9,379.4" fill="none" stroke="#a0a0a0" stroke-width="2.4"/>
<polygon points="510.0,371.0 505.9,373.3 501.8,371.0 501.8,366.2 505.9,363.9 510.0,366.2" fill="none" stroke="#a0a0a0" stroke-width="2.4"/>
<polygon points="490.7,385.1 486.6,387.4 482.5,385.1 482.5,380.3 486.6,378.0 490.7,380.3" fill="none" stroke="#a0a0a0" stroke-width="2.4"/>
<polygon points="510.8,397.0 506.7,399.3 502.6,397.0 502.6,392.2 506.7,389.9 510.8,392.2" fill="none" stroke="#a0a0a0" stroke-width="2.4"/>
<polygon points="432.1,435.9 428.0,438.2 423.9,435.9 423.9,431.1 428.0,428.8 432.1,431.1" fill="none" stroke="#a0a0a0" stroke-width="2.4"/>
<polygon points="419.0,435.9 414.9,438.2 410.8,435.9 410.8,431.1 414.9,428.8 419.0,431.1" fill="none" stroke="#a0a0a0" stroke-width="2.4"/>
<polygon points="440.4,422.2 436.3,424.5 432.2,422.2 432.2,417.4 436.3,415.1 440.4,417.4" fill="none" stroke="#a0a0a0" stroke-width="2.4"/>
<polygon points="440.9,447.7 436.8,450.0 432.7,447.7 432.7,442.9 436.8,440.6 440.9,442.9" fill="none" stroke="#a0a0a0" stroke-width="2.4"/>
<polygon points="460.6,464.4 456.5,466.7 452.4,464.4 452.4,459.6 456.5,457.3 460.6,459.6" fill="none" stroke="#a0a0a0" stroke-width="2.4"/>
<polygon points="465.1,475.9 461.0,478.2 456.9,475.9 456.9,471.1 461.0,468.8 465.1,471.1" fill="none" stroke="#a0a0a0" stroke-width="2.4"/>
<polygon points="476.6,478.4 472.5,480.7 468.4,478.4 468.4,473.6 472.5,471.3 476.6,473.6" fill="none" stroke="#a0a0a0" stroke-width="2.4"/>
<polygon points="511.6,471.4 507.5,473.7 503.4,471.4 503.4,466.6 507.5,464.3 511.6,466.6" fill="none" stroke="#a0a0a0" stroke-width="2.4"/>
<polygon points="498.5,469.8 494.4,472.1 490.3,469.8 490.3,465.0 494.4,462.7 498.5,465.0" fill="none" stroke="#a0a0a0" stroke-width="2.4"/>
<polygon points="518.6,458.1 514.5,460.4 510.4,458.1 510.4,453.3 514.5,451.0 518.6,453.3" fill="none" stroke="#a0a0a0" stroke-width="2.4"/>
<polygon points="518.1,480.9 514.0,483.2 509.9,480.9 509.9,476.1 514.0,473.8 518.1,476.1" fill="none" stroke="#a0a0a0" stroke-width="2.4"/>
<polygon points="531.9,424.2 527.8,426.5 523.7,424.2 523.7,419.4 527.8,417.1 531.9,419.4" fill="none" stroke="#a0a0a0" stroke-width="2.4"/>
<polygon points="522.5,433.5 518.4,435.8 514.3,433.5 514.3,428.8 518.4,426.4 522.5,428.8" fill="none" stroke="#a0a0a0" stroke-width="2.4"/>
<polygon points="545.9,426.8 541.8,429.1 537.7,426.8 537.7,422.0 541.8,419.7 545.9,422.0" fill="none" stroke="#a0a0a0" stroke-width="2.4"/>
<circle cx="455.4" cy="389.1" r="1.35" fill="#f2f2f2"/>
<circle cx="448.6" cy="393.1" r="1.35" fill="#f2f2f2"/>
<circle cx="441.8" cy="389.1" r="1.35" fill="#f2f2f2"/>
<circle cx="441.8" cy="381.2" r="1.35" fill="#f2f2f2"/>
<circle cx="448.6" cy="377.3" r="1.35" fill="#f2f2f2"/>
<circle cx="455.4" cy="381.2" r="1.35" fill="#f2f2f2"/>
<circle cx="437.9" cy="369.1" r="1.35" fill="#f2f2f2"/>
<circle cx="444.7" cy="365.1" r="1.35" fill="#f2f2f2"/>
<circle cx="451.5" cy="369.1" r="1.35" fill="#f2f2f2"/>
<circle cx="469.5" cy="392.6" r="1.35" fill="#f2f2f2"/>
<circle cx="462.7" cy="396.6" r="1.35" fill="#f2f2f2"/>
<circle cx="455.9" cy="392.6" r="1.35" fill="#f2f2f2"/>
<circle cx="439.5" cy="403.2" r="1.35" fill="#f2f2f2"/>
<circle cx="432.7" cy="399.2" r="1.35" fill="#f2f2f2"/>
<circle cx="499.8" cy="389.7" r="1.35" fill="#f2f2f2"/>
<circle cx="499.8" cy="373.9" r="1.35" fill="#f2f2f2"/>
<circle cx="506.6" cy="377.9" r="1.35" fill="#f2f2f2"/>
<circle cx="512.7" cy="372.6" r="1.35" fill="#f2f2f2"/>
<circle cx="505.9" cy="376.5" r="1.35" fill="#f2f2f2"/>
<circle cx="505.9" cy="360.7" r="1.35" fill="#f2f2f2"/>
<circle cx="512.7" cy="364.7" r="1.35" fill="#f2f2f2"/>
<circle cx="486.6" cy="374.8" r="1.35" fill="#f2f2f2"/>
<circle cx="493.4" cy="378.8" r="1.35" fill="#f2f2f2"/>
<circle cx="506.7" cy="402.5" r="1.35" fill="#f2f2f2"/>
<circle cx="499.9" cy="398.6" r="1.35" fill="#f2f2f2"/>
<circle cx="499.9" cy="390.7" r="1.35" fill="#f2f2f2"/>
<circle cx="513.5" cy="390.7" r="1.35" fill="#f2f2f2"/>
<circle cx="434.8" cy="437.4" r="1.35" fill="#f2f2f2"/>
<circle cx="421.2" cy="437.4" r="1.35" fill="#f2f2f2"/>
<circle cx="421.2" cy="429.6" r="1.35" fill="#f2f2f2"/>
<circle cx="428.0" cy="425.6" r="1.35" fill="#f2f2f2"/>
<circle cx="434.8" cy="429.6" r="1.35" fill="#f2f2f2"/>
<circle cx="414.9" cy="441.4" r="1.35" fill="#f2f2f2"/>
<circle cx="408.1" cy="437.4" r="1.35" fill="#f2f2f2"/>
<circle cx="408.1" cy="429.6" r="1.35" fill="#f2f2f2"/>
<circle cx="421.7" cy="429.6" r="1.35" fill="#f2f2f2"/>
<circle cx="443.1" cy="423.8" r="1.35" fill="#f2f2f2"/>
<circle cx="429.5" cy="423.8" r="1.35" fill="#f2f2f2"/>
<circle cx="443.1" cy="415.9" r="1.35" fill="#f2f2f2"/>
<circle cx="443.6" cy="449.2" r="1.35" fill="#f2f2f2"/>
<circle cx="436.8" cy="453.2" r="1.35" fill="#f2f2f2"/>
<circle cx="436.8" cy="437.4" r="1.35" fill="#f2f2f2"/>
<circle cx="443.6" cy="441.4" r="1.35" fill="#f2f2f2"/>
<circle cx="463.3" cy="465.9" r="1.35" fill="#f2f2f2"/>
<circle cx="456.5" cy="469.9" r="1.35" fill="#f2f2f2"/>
<circle cx="449.7" cy="465.9" r="1.35" fill="#f2f2f2"/>
<circle cx="454.2" cy="477.4" r="1.35" fill="#f2f2f2"/>
<circle cx="454.2" cy="469.6" r="1.35" fill="#f2f2f2"/>
<circle cx="479.3" cy="479.9" r="1.35" fill="#f2f2f2"/>
<circle cx="472.5" cy="468.1" r="1.35" fill="#f2f2f2"/>
<circle cx="479.3" cy="472.1" r="1.35" fill="#f2f2f2"/>
<circle cx="514.3" cy="472.9" r="1.35" fill="#f2f2f2"/>
<circle cx="507.5" cy="476.9" r="1.35" fill="#f2f2f2"/>
<circle cx="500.7" cy="472.9" r="1.35" fill="#f2f2f2"/>
<circle cx="507.5" cy="461.1" r="1.35" fill="#f2f2f2"/>
<circle cx="514.3" cy="465.1" r="1.35" fill="#f2f2f2"/>
<circle cx="501.2" cy="471.3" r="1.35" fill="#f2f2f2"/>
<circle cx="494.4" cy="475.3" r="1.35" fill="#f2f2f2"/>
<circle cx="487.6" cy="463.4" r="1.35" fill="#f2f2f2"/>
<circle cx="494.4" cy="459.5" r="1.35" fill="#f2f2f2"/>
<circle cx="501.2" cy="463.4" r="1.35" fill="#f2f2f2"/>
<circle cx="514.5" cy="463.6" r="1.35" fill="#f2f2f2"/>
<circle cx="507.7" cy="459.6" r="1.35" fill="#f2f2f2"/>
<circle cx="507.7" cy="451.8" r="1.35" fill="#f2f2f2"/>
<circle cx="514.5" cy="447.8" r="1.35" fill="#f2f2f2"/>
<circle cx="521.3" cy="451.8" r="1.35" fill="#f2f2f2"/>
<circle cx="514.0" cy="486.4" r="1.35" fill="#f2f2f2"/>
<circle cx="507.2" cy="482.4" r="1.35" fill="#f2f2f2"/>
<circle cx="507.2" cy="474.6" r="1.35" fill="#f2f2f2"/>
<circle cx="514.0" cy="470.6" r="1.35" fill="#f2f2f2"/>
<circle cx="534.6" cy="425.8" r="1.35" fill="#f2f2f2"/>
<circle cx="527.8" cy="429.7" r="1.35" fill="#f2f2f2"/>
<circle cx="521.0" cy="417.9" r="1.35" fill="#f2f2f2"/>
<circle cx="534.6" cy="417.9" r="1.35" fill="#f2f2f2"/>
<circle cx="525.2" cy="435.1" r="1.35" fill="#f2f2f2"/>
<circle cx="518.4" cy="439.0" r="1.35" fill="#f2f2f2"/>
<circle cx="511.6" cy="435.1" r="1.35" fill="#f2f2f2"/>
<circle cx="511.6" cy="427.2" r="1.35" fill="#f2f2f2"/>
<circle cx="518.4" cy="423.2" r="1.35" fill="#f2f2f2"/>
<circle cx="541.8" cy="432.3" r="1.35" fill="#f2f2f2"/>
<circle cx="535.0" cy="428.3" r="1.35" fill="#f2f2f2"/>
<circle cx="535.0" cy="420.4" r="1.35" fill="#f2f2f2"/>
<circle cx="541.8" cy="416.5" r="1.35" fill="#f2f2f2"/>
<circle cx="548.6" cy="420.4" r="1.35" fill="#f2f2f2"/>
<circle cx="446.7" cy="370.8" r="1.35" fill="#f2f2f2"/>
<circle cx="465.5" cy="389.6" r="1.35" fill="#f2f2f2"/>
<circle cx="479.1" cy="386.1" r="1.35" fill="#f2f2f2"/>
<circle cx="489.1" cy="384.4" r="1.35" fill="#f2f2f2"/>
<circle cx="508.8" cy="392.5" r="1.35" fill="#f2f2f2"/>
<circle cx="513.8" cy="358.3" r="1.35" fill="#f2f2f2"/>
<circle cx="513.8" cy="367.5" r="1.35" fill="#f2f2f2"/>
<circle cx="529.7" cy="372.5" r="1.35" fill="#f2f2f2"/>
<circle cx="483.5" cy="375.2" r="1.35" fill="#f2f2f2"/>
<circle cx="483.4" cy="359.7" r="1.35" fill="#f2f2f2"/>
<circle cx="476.9" cy="380.3" r="1.35" fill="#f2f2f2"/>
<circle cx="498.5" cy="404.2" r="1.35" fill="#f2f2f2"/>
<circle cx="516.7" cy="402.2" r="1.35" fill="#f2f2f2"/>
<circle cx="453.4" cy="392.3" r="1.35" fill="#f2f2f2"/>
<circle cx="455.8" cy="401.7" r="1.35" fill="#f2f2f2"/>
<circle cx="467.1" cy="401.9" r="1.35" fill="#f2f2f2"/>
<circle cx="472.3" cy="409.1" r="1.35" fill="#f2f2f2"/>
<circle cx="411.9" cy="433.0" r="1.35" fill="#f2f2f2"/>
<circle cx="439.2" cy="420.4" r="1.35" fill="#f2f2f2"/>
<circle cx="442.3" cy="409.6" r="1.35" fill="#f2f2f2"/>
<circle cx="435.8" cy="412.0" r="1.35" fill="#f2f2f2"/>
<circle cx="436.7" cy="404.2" r="1.35" fill="#f2f2f2"/>
<circle cx="445.3" cy="422.5" r="1.35" fill="#f2f2f2"/>
<circle cx="453.3" cy="416.9" r="1.35" fill="#f2f2f2"/>
<circle cx="457.2" cy="426.3" r="1.35" fill="#f2f2f2"/>
<circle cx="415.2" cy="422.2" r="1.35" fill="#f2f2f2"/>
<circle cx="418.9" cy="420.9" r="1.35" fill="#f2f2f2"/>
<circle cx="441.1" cy="450.9" r="1.35" fill="#f2f2f2"/>
<circle cx="452.1" cy="449.0" r="1.35" fill="#f2f2f2"/>
<circle cx="452.4" cy="454.7" r="1.35" fill="#f2f2f2"/>
<circle cx="435.1" cy="449.0" r="1.35" fill="#f2f2f2"/>
<circle cx="431.9" cy="451.1" r="1.35" fill="#f2f2f2"/>
<circle cx="429.8" cy="460.4" r="1.35" fill="#f2f2f2"/>
<circle cx="422.9" cy="461.4" r="1.35" fill="#f2f2f2"/>
<circle cx="463.5" cy="471.8" r="1.35" fill="#f2f2f2"/>
<circle cx="456.9" cy="483.8" r="1.35" fill="#f2f2f2"/>
<circle cx="462.5" cy="467.3" r="1.35" fill="#f2f2f2"/>
<circle cx="472.2" cy="464.4" r="1.35" fill="#f2f2f2"/>
<circle cx="475.1" cy="456.6" r="1.35" fill="#f2f2f2"/>
<circle cx="474.1" cy="451.7" r="1.35" fill="#f2f2f2"/>
<circle cx="470.6" cy="443.4" r="1.35" fill="#f2f2f2"/>
<circle cx="464.5" cy="452.4" r="1.35" fill="#f2f2f2"/>
<circle cx="496.4" cy="465.2" r="1.35" fill="#f2f2f2"/>
<circle cx="491.5" cy="462.3" r="1.35" fill="#f2f2f2"/>
<circle cx="486.7" cy="449.0" r="1.35" fill="#f2f2f2"/>
<circle cx="490.9" cy="448.3" r="1.35" fill="#f2f2f2"/>
<circle cx="486.3" cy="465.0" r="1.35" fill="#f2f2f2"/>
<circle cx="485.0" cy="462.6" r="1.35" fill="#f2f2f2"/>
<circle cx="480.3" cy="469.1" r="1.35" fill="#f2f2f2"/>
<circle cx="482.6" cy="471.4" r="1.35" fill="#f2f2f2"/>
<circle cx="475.5" cy="478.7" r="1.35" fill="#f2f2f2"/>
<circle cx="519.8" cy="443.5" r="1.35" fill="#f2f2f2"/>
<circle cx="514.0" cy="448.4" r="1.35" fill="#f2f2f2"/>
<circle cx="517.9" cy="441.6" r="1.35" fill="#f2f2f2"/>
<circle cx="532.4" cy="454.2" r="1.35" fill="#f2f2f2"/>
<circle cx="515.7" cy="429.8" r="1.35" fill="#f2f2f2"/>
<circle cx="514.7" cy="396.2" r="1.35" fill="#f2f2f2"/>
<circle cx="510.3" cy="414.4" r="1.35" fill="#f2f2f2"/>
<circle cx="502.1" cy="411.8" r="1.35" fill="#f2f2f2"/>
<circle cx="495.9" cy="420.0" r="1.35" fill="#f2f2f2"/>
<circle cx="494.9" cy="423.9" r="1.35" fill="#f2f2f2"/>
<circle cx="554.3" cy="426.2" r="1.35" fill="#f2f2f2"/>
<circle cx="577.5" cy="354.6" r="1.35" fill="#f2f2f2"/>
<circle cx="587.9" cy="353.9" r="1.35" fill="#f2f2f2"/>
<circle cx="591.0" cy="351.2" r="1.35" fill="#f2f2f2"/>
<circle cx="602.2" cy="352.5" r="1.35" fill="#f2f2f2"/>
<circle cx="602.0" cy="360.6" r="1.35" fill="#f2f2f2"/>
<circle cx="509.9" cy="358.1" r="1.9" fill="#e0242a"/>
<circle cx="515.5" cy="370.0" r="1.9" fill="#e0242a"/>
<circle cx="480.5" cy="375.7" r="1.9" fill="#e0242a"/>
<circle cx="474.0" cy="380.9" r="1.9" fill="#e0242a"/>
<circle cx="502.3" cy="401.2" r="1.9" fill="#e0242a"/>
<circle cx="508.4" cy="406.0" r="1.9" fill="#e0242a"/>
<circle cx="451.3" cy="394.4" r="1.9" fill="#e0242a"/>
<circle cx="456.5" cy="410.6" r="1.9" fill="#e0242a"/>
<circle cx="461.6" cy="406.0" r="1.9" fill="#e0242a"/>
<circle cx="444.2" cy="412.3" r="1.9" fill="#e0242a"/>
<circle cx="444.2" cy="419.8" r="1.9" fill="#e0242a"/>
<circle cx="412.3" cy="422.8" r="1.9" fill="#e0242a"/>
<circle cx="403.5" cy="432.5" r="1.9" fill="#e0242a"/>
<circle cx="442.9" cy="454.5" r="1.9" fill="#e0242a"/>
<circle cx="434.2" cy="451.9" r="1.9" fill="#e0242a"/>
<circle cx="465.5" cy="467.0" r="1.9" fill="#e0242a"/>
<circle cx="470.8" cy="452.5" r="1.9" fill="#e0242a"/>
<circle cx="477.3" cy="453.8" r="1.9" fill="#e0242a"/>
<circle cx="489.6" cy="460.0" r="1.9" fill="#e0242a"/>
<circle cx="482.6" cy="464.3" r="1.9" fill="#e0242a"/>
<circle cx="521.5" cy="446.0" r="1.9" fill="#e0242a"/>
<circle cx="522.8" cy="455.7" r="1.9" fill="#e0242a"/>
<circle cx="519.5" cy="418.3" r="1.9" fill="#e0242a"/>
<circle cx="504.5" cy="413.5" r="1.9" fill="#e0242a"/>
<circle cx="505.4" cy="420.5" r="1.9" fill="#e0242a"/>
<circle cx="586.7" cy="351.2" r="1.9" fill="#e0242a"/>
<circle cx="599.3" cy="353.4" r="1.9" fill="#e0242a"/>
<circle cx="472.3" cy="390.0" r="1.9" fill="#3562c4"/>
<circle cx="476.7" cy="387.8" r="1.9" fill="#3562c4"/>
<circle cx="515.5" cy="360.8" r="1.9" fill="#3562c4"/>
<circle cx="520.0" cy="357.3" r="1.9" fill="#3562c4"/>
<circle cx="475.3" cy="387.9" r="1.9" fill="#3562c4"/>
<circle cx="513.7" cy="402.1" r="1.9" fill="#3562c4"/>
<circle cx="516.4" cy="398.6" r="1.9" fill="#3562c4"/>
<circle cx="454.7" cy="404.5" r="1.9" fill="#3562c4"/>
<circle cx="437.7" cy="409.7" r="1.9" fill="#3562c4"/>
<circle cx="435.0" cy="406.2" r="1.9" fill="#3562c4"/>
<circle cx="446.4" cy="448.4" r="1.9" fill="#3562c4"/>
<circle cx="449.9" cy="451.0" r="1.9" fill="#3562c4"/>
<circle cx="473.4" cy="459.1" r="1.9" fill="#3562c4"/>
<circle cx="483.0" cy="470.5" r="1.9" fill="#3562c4"/>
<circle cx="484.8" cy="473.5" r="1.9" fill="#3562c4"/>
<circle cx="514.9" cy="445.6" r="1.9" fill="#3562c4"/>
<circle cx="514.9" cy="441.2" r="1.9" fill="#3562c4"/>
<circle cx="509.8" cy="415.2" r="1.9" fill="#3562c4"/>
<circle cx="556.7" cy="424.4" r="1.9" fill="#3562c4"/>
<circle cx="561.0" cy="425.3" r="1.9" fill="#3562c4"/>
<circle cx="594.9" cy="356.4" r="1.9" fill="#3562c4"/>
<circle cx="599.3" cy="359.4" r="1.9" fill="#3562c4"/>
</g>
<rect x="362.8" y="339.3" width="256.6" height="147.4" fill="none" stroke="#1f1f1f" stroke-width="1.15"/>
<line x1="359.00" y1="480.40" x2="362.90" y2="480.40" stroke="#333" stroke-width="1"/>
<text x="354.6" y="484.8" font-size="11.6" text-anchor="end" fill="#1a1a1a" >0</text>
<line x1="359.00" y1="448.68" x2="362.90" y2="448.68" stroke="#333" stroke-width="1"/>
<text x="354.6" y="453.1" font-size="11.6" text-anchor="end" fill="#1a1a1a" >1</text>
<line x1="359.00" y1="416.96" x2="362.90" y2="416.96" stroke="#333" stroke-width="1"/>
<text x="354.6" y="421.4" font-size="11.6" text-anchor="end" fill="#1a1a1a" >2</text>
<line x1="359.00" y1="385.24" x2="362.90" y2="385.24" stroke="#333" stroke-width="1"/>
<text x="354.6" y="389.6" font-size="11.6" text-anchor="end" fill="#1a1a1a" >3</text>
<line x1="359.00" y1="353.52" x2="362.90" y2="353.52" stroke="#333" stroke-width="1"/>
<text x="354.6" y="357.9" font-size="11.6" text-anchor="end" fill="#1a1a1a" >4</text>
<line x1="374.20" y1="487.00" x2="374.20" y2="490.80" stroke="#333" stroke-width="1"/>
<text x="374.2" y="503.7" font-size="11.6" text-anchor="middle" fill="#1a1a1a" >0</text>
<line x1="405.95" y1="487.00" x2="405.95" y2="490.80" stroke="#333" stroke-width="1"/>
<text x="405.9" y="503.7" font-size="11.6" text-anchor="middle" fill="#1a1a1a" >1</text>
<line x1="437.70" y1="487.00" x2="437.70" y2="490.80" stroke="#333" stroke-width="1"/>
<text x="437.7" y="503.7" font-size="11.6" text-anchor="middle" fill="#1a1a1a" >2</text>
<line x1="469.45" y1="487.00" x2="469.45" y2="490.80" stroke="#333" stroke-width="1"/>
<text x="469.4" y="503.7" font-size="11.6" text-anchor="middle" fill="#1a1a1a" >3</text>
<line x1="501.20" y1="487.00" x2="501.20" y2="490.80" stroke="#333" stroke-width="1"/>
<text x="501.2" y="503.7" font-size="11.6" text-anchor="middle" fill="#1a1a1a" >4</text>
<line x1="532.95" y1="487.00" x2="532.95" y2="490.80" stroke="#333" stroke-width="1"/>
<text x="533.0" y="503.7" font-size="11.6" text-anchor="middle" fill="#1a1a1a" >5</text>
<line x1="564.70" y1="487.00" x2="564.70" y2="490.80" stroke="#333" stroke-width="1"/>
<text x="564.7" y="503.7" font-size="11.6" text-anchor="middle" fill="#1a1a1a" >6</text>
<line x1="596.45" y1="487.00" x2="596.45" y2="490.80" stroke="#333" stroke-width="1"/>
<text x="596.5" y="503.7" font-size="11.6" text-anchor="middle" fill="#1a1a1a" >7</text>
<text x="490.6" y="519.7" font-size="11.3" text-anchor="middle" fill="#1a1a1a" textLength="37.6" lengthAdjust="spacingAndGlyphs">X (nm)</text>
<text transform="translate(342.6,413) rotate(-90)" font-size="11.3" text-anchor="middle" fill="#1a1a1a" textLength="37.4" lengthAdjust="spacingAndGlyphs">Y (nm)</text>
<text x="372.2" y="357.6" font-size="12.0" text-anchor="start" fill="#1a1a1a" textLength="62" lengthAdjust="spacingAndGlyphs">In XY plane</text>
<text x="367.7" y="333.9" font-size="11.7" fill="#1a1a1a" textLength="198.8">OH<tspan font-size="7" dy="-4.5">-</tspan><tspan dy="4.5"> in protonated Th-TF COF system</tspan></text>
<rect x="635.5" y="321.2" width="9.3" height="183.5" fill="url(#viri)" stroke="#333" stroke-width="0.8"/>
<line x1="644.80" y1="504.70" x2="648.50" y2="504.70" stroke="#333" stroke-width="1"/>
<text x="653.2" y="508.9" font-size="11.6" text-anchor="start" fill="#1a1a1a" >0</text>
<line x1="644.80" y1="468.00" x2="648.50" y2="468.00" stroke="#333" stroke-width="1"/>
<text x="653.2" y="472.2" font-size="11.6" text-anchor="start" fill="#1a1a1a" >2</text>
<line x1="644.80" y1="431.30" x2="648.50" y2="431.30" stroke="#333" stroke-width="1"/>
<text x="653.2" y="435.5" font-size="11.6" text-anchor="start" fill="#1a1a1a" >4</text>
<line x1="644.80" y1="394.60" x2="648.50" y2="394.60" stroke="#333" stroke-width="1"/>
<text x="653.2" y="398.8" font-size="11.6" text-anchor="start" fill="#1a1a1a" >6</text>
<line x1="644.80" y1="357.90" x2="648.50" y2="357.90" stroke="#333" stroke-width="1"/>
<text x="653.2" y="362.1" font-size="11.6" text-anchor="start" fill="#1a1a1a" >8</text>
<line x1="644.80" y1="321.20" x2="648.50" y2="321.20" stroke="#333" stroke-width="1"/>
<text x="653.2" y="325.4" font-size="11.6" text-anchor="start" fill="#1a1a1a" textLength="13.6" lengthAdjust="spacingAndGlyphs">10</text>
<text transform="translate(681.6,412.7) rotate(-90)" font-size="11" text-anchor="middle" fill="#1a1a1a" textLength="131" lengthAdjust="spacingAndGlyphs">Number density (nm<tspan font-size="7.5" dy="-4.5">−3</tspan><tspan dy="4.5">)</tspan></text>
<text x="360.3" y="569.6" font-size="13.8" text-anchor="start" fill="#2a1d1d" >f</text>
<g clip-path="url(#cpF)">
<g filter="url(#spkF)">
<rect x="370" y="585" width="260" height="240" fill="#000" fill-opacity="0.10"/>
<rect x="370" y="585" width="113" height="240" fill="#000" fill-opacity="0.225"/>
<rect x="508" y="585" width="122" height="160" fill="#000" fill-opacity="0.225"/>
<rect x="532" y="745" width="98" height="80" fill="#000" fill-opacity="0.225"/>
<rect x="508" y="745" width="24" height="80" fill="#000" fill-opacity="0.13"/>
<rect x="483" y="585" width="25" height="122" fill="#000" fill-opacity="0.2"/>
<ellipse cx="393" cy="665" rx="12" ry="40" fill="#000" fill-opacity="0.12"/>
<ellipse cx="393" cy="745" rx="10" ry="25" fill="#000" fill-opacity="0.1"/>
<ellipse cx="453" cy="733" rx="11" ry="13" fill="#000" fill-opacity="0.22"/>
<ellipse cx="594" cy="632" rx="18" ry="14" fill="#000" fill-opacity="0.16"/>
<ellipse cx="600" cy="715" rx="14" ry="24" fill="#000" fill-opacity="0.12"/>
<ellipse cx="478" cy="620" rx="12" ry="20" fill="#000" fill-opacity="0.07"/>
<ellipse cx="560" cy="780" rx="20" ry="20" fill="#000" fill-opacity="0.05"/>
<ellipse cx="430" cy="640" rx="10" ry="10" fill="#000" fill-opacity="0.06"/>
</g>
</g>
<rect x="504.5" y="731.5" width="7.5" height="7.5" rx="2" fill="#e6e030"/>
<rect x="505.5" y="732.5" width="5.5" height="5.5" rx="1.5" fill="#f4ea2a"/>
<rect x="375.5" y="592.7" width="246.9" height="223.6" fill="none" stroke="#1f1f1f" stroke-width="1.15"/>
<line x1="371.50" y1="805.80" x2="375.50" y2="805.80" stroke="#333" stroke-width="1"/>
<text x="367.6" y="810.2" font-size="11.6" text-anchor="end" fill="#1a1a1a" textLength="16.4" lengthAdjust="spacingAndGlyphs">0.0</text>
<line x1="371.50" y1="779.35" x2="375.50" y2="779.35" stroke="#333" stroke-width="1"/>
<text x="367.6" y="783.7" font-size="11.6" text-anchor="end" fill="#1a1a1a" textLength="16.4" lengthAdjust="spacingAndGlyphs">0.5</text>
<line x1="371.50" y1="752.90" x2="375.50" y2="752.90" stroke="#333" stroke-width="1"/>
<text x="367.6" y="757.3" font-size="11.6" text-anchor="end" fill="#1a1a1a" textLength="16.4" lengthAdjust="spacingAndGlyphs">1.0</text>
<line x1="371.50" y1="726.45" x2="375.50" y2="726.45" stroke="#333" stroke-width="1"/>
<text x="367.6" y="730.8" font-size="11.6" text-anchor="end" fill="#1a1a1a" textLength="16.4" lengthAdjust="spacingAndGlyphs">1.5</text>
<line x1="371.50" y1="700.00" x2="375.50" y2="700.00" stroke="#333" stroke-width="1"/>
<text x="367.6" y="704.4" font-size="11.6" text-anchor="end" fill="#1a1a1a" textLength="16.4" lengthAdjust="spacingAndGlyphs">2.0</text>
<line x1="371.50" y1="673.55" x2="375.50" y2="673.55" stroke="#333" stroke-width="1"/>
<text x="367.6" y="677.9" font-size="11.6" text-anchor="end" fill="#1a1a1a" textLength="16.4" lengthAdjust="spacingAndGlyphs">2.5</text>
<line x1="371.50" y1="647.10" x2="375.50" y2="647.10" stroke="#333" stroke-width="1"/>
<text x="367.6" y="651.5" font-size="11.6" text-anchor="end" fill="#1a1a1a" textLength="16.4" lengthAdjust="spacingAndGlyphs">3.0</text>
<line x1="371.50" y1="620.65" x2="375.50" y2="620.65" stroke="#333" stroke-width="1"/>
<text x="367.6" y="625.0" font-size="11.6" text-anchor="end" fill="#1a1a1a" textLength="16.4" lengthAdjust="spacingAndGlyphs">3.5</text>
<line x1="371.50" y1="594.20" x2="375.50" y2="594.20" stroke="#333" stroke-width="1"/>
<text x="367.6" y="598.6" font-size="11.6" text-anchor="end" fill="#1a1a1a" textLength="16.4" lengthAdjust="spacingAndGlyphs">4.0</text>
<line x1="386.50" y1="816.10" x2="386.50" y2="819.90" stroke="#333" stroke-width="1"/>
<text x="386.5" y="832.9" font-size="11.6" text-anchor="middle" fill="#1a1a1a" >0</text>
<line x1="439.50" y1="816.10" x2="439.50" y2="819.90" stroke="#333" stroke-width="1"/>
<text x="439.5" y="832.9" font-size="11.6" text-anchor="middle" fill="#1a1a1a" >1</text>
<line x1="492.50" y1="816.10" x2="492.50" y2="819.90" stroke="#333" stroke-width="1"/>
<text x="492.5" y="832.9" font-size="11.6" text-anchor="middle" fill="#1a1a1a" >2</text>
<line x1="545.50" y1="816.10" x2="545.50" y2="819.90" stroke="#333" stroke-width="1"/>
<text x="545.5" y="832.9" font-size="11.6" text-anchor="middle" fill="#1a1a1a" >3</text>
<line x1="598.50" y1="816.10" x2="598.50" y2="819.90" stroke="#333" stroke-width="1"/>
<text x="598.5" y="832.9" font-size="11.6" text-anchor="middle" fill="#1a1a1a" >4</text>
<text x="499.5" y="846.8" font-size="11.3" text-anchor="middle" fill="#1a1a1a" textLength="37.6" lengthAdjust="spacingAndGlyphs">Y (nm)</text>
<text transform="translate(346.6,704.5) rotate(-90)" font-size="11.3" text-anchor="middle" fill="#1a1a1a" textLength="36.8" lengthAdjust="spacingAndGlyphs">Z (nm)</text>
<text x="380" y="587.8" font-size="11.7" fill="#1a1a1a" textLength="200">OH<tspan font-size="7" dy="-4.5">-</tspan><tspan dy="4.5"> in protonated Th-TF COF system</tspan></text>
<text x="392.3" y="616.6" font-size="12.0" text-anchor="start" fill="#ffffff" textLength="62" lengthAdjust="spacingAndGlyphs">In YZ plane</text>
<path d="M448.9,668.5 L436,668.5 Q429.7,668.5 429.7,662.2 L429.7,642.5 Q429.7,636.2 436,636.2 L444,636.2" fill="none" stroke="#f07f3a" stroke-width="3.0"/>
<path d="M443.3,631.2 L449.4,636.2 L443.3,641.2 Z" fill="#f07f3a"/>
<path d="M448.9,710.7 L436,710.7 Q429.7,710.7 429.7,704.4 L429.7,684.7 Q429.7,678.4 436,678.4 L444,678.4" fill="none" stroke="#f07f3a" stroke-width="3.0"/>
<path d="M443.3,673.4 L449.4,678.4 L443.3,683.4 Z" fill="#f07f3a"/>
<path d="M448.9,753.8 L436,753.8 Q429.7,753.8 429.7,747.5 L429.7,727.8 Q429.7,721.5 436,721.5 L444,721.5" fill="none" stroke="#f07f3a" stroke-width="3.0"/>
<path d="M443.3,716.5 L449.4,721.5 L443.3,726.5 Z" fill="#f07f3a"/>
<text x="459.9" y="659.3" font-size="13.5" font-weight="bold" fill="#f07f3a">H-bond Jumping</text>
<text x="459.9" y="700.5" font-size="13.5" font-weight="bold" fill="#f07f3a">much wider channel</text>
<rect x="638.1" y="615.8" width="8.5" height="176.5" fill="url(#viri)" stroke="#333" stroke-width="0.8"/>
<line x1="646.60" y1="792.60" x2="650.30" y2="792.60" stroke="#333" stroke-width="1"/>
<text x="653.7" y="796.8" font-size="11.6" text-anchor="start" fill="#1a1a1a" >0</text>
<line x1="646.60" y1="748.52" x2="650.30" y2="748.52" stroke="#333" stroke-width="1"/>
<text x="653.7" y="752.7" font-size="11.6" text-anchor="start" fill="#1a1a1a" >2</text>
<line x1="646.60" y1="704.45" x2="650.30" y2="704.45" stroke="#333" stroke-width="1"/>
<text x="653.7" y="708.7" font-size="11.6" text-anchor="start" fill="#1a1a1a" >4</text>
<line x1="646.60" y1="660.38" x2="650.30" y2="660.38" stroke="#333" stroke-width="1"/>
<text x="653.7" y="664.6" font-size="11.6" text-anchor="start" fill="#1a1a1a" >6</text>
<line x1="646.60" y1="616.30" x2="650.30" y2="616.30" stroke="#333" stroke-width="1"/>
<text x="653.7" y="620.5" font-size="11.6" text-anchor="start" fill="#1a1a1a" >8</text>
<text transform="translate(677.0,702.8) rotate(-90)" font-size="11" text-anchor="middle" fill="#1a1a1a" textLength="127.5" lengthAdjust="spacingAndGlyphs">Number density (nm<tspan font-size="7.5" dy="-4.5">−3</tspan><tspan dy="4.5">)</tspan></text>
</svg>
</body></html>
